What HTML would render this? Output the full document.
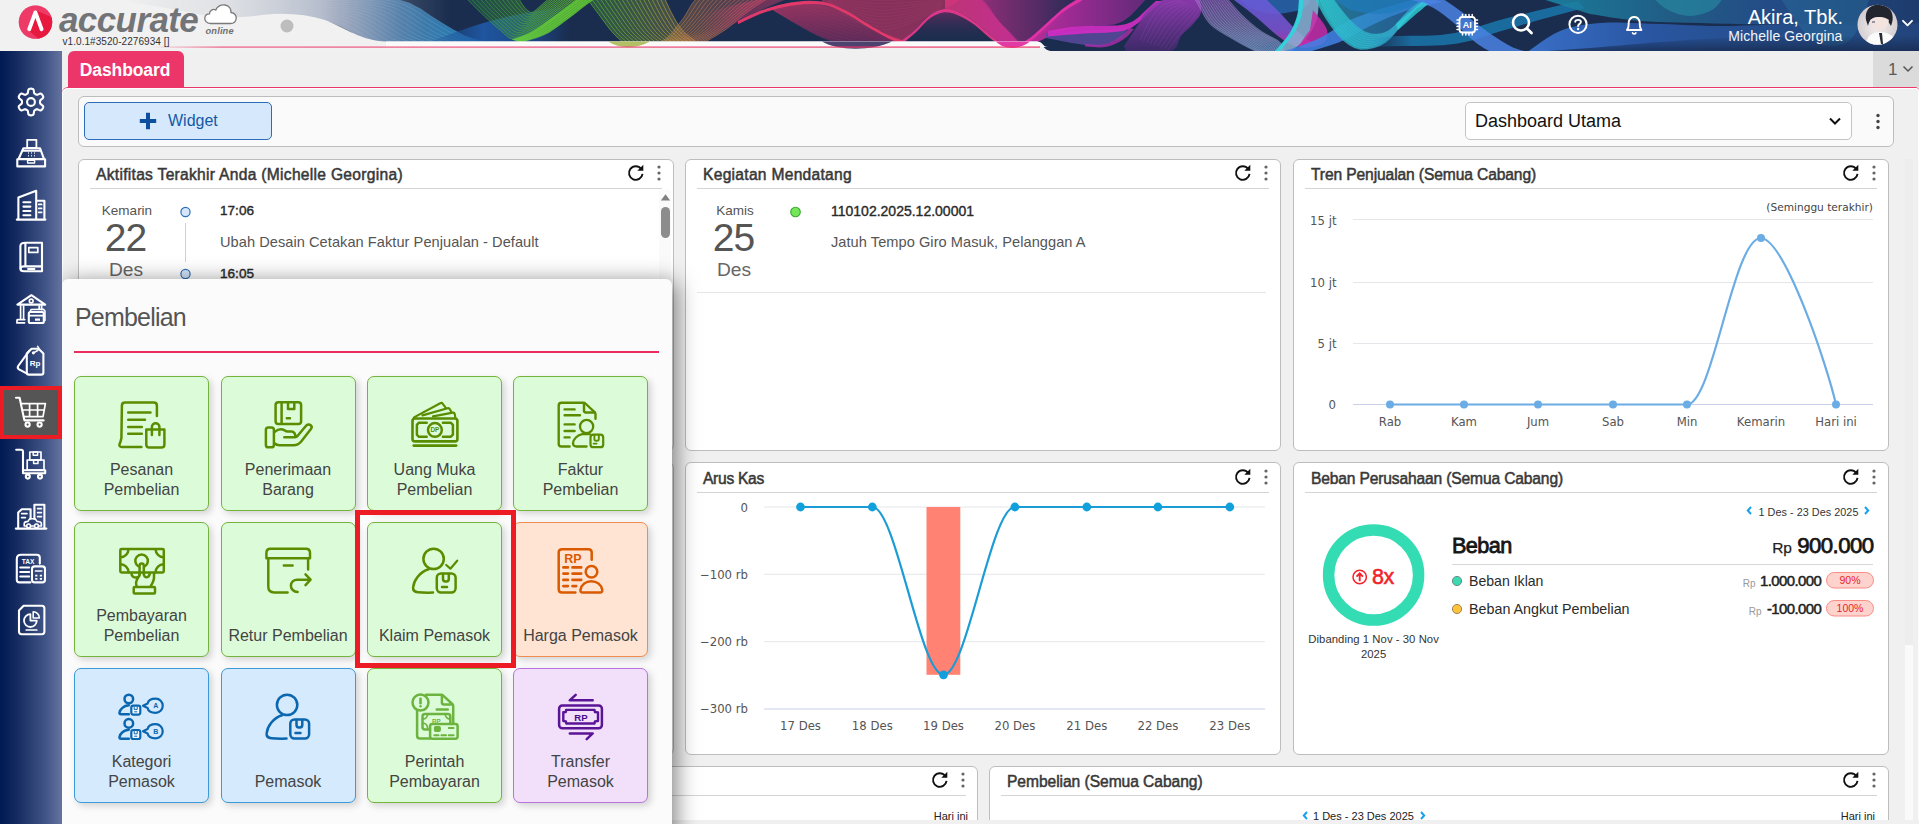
<!DOCTYPE html>
<html lang="id">
<head>
<meta charset="utf-8">
<title>Accurate Online - Dashboard</title>
<style>
*{box-sizing:border-box;margin:0;padding:0}
html,body{width:1919px;height:824px;overflow:hidden;background:#f0f0f0;font-family:"Liberation Sans","DejaVu Sans",sans-serif;color:#333}
.abs{position:absolute}
#app{position:absolute;left:0;top:0;width:1919px;height:824px;overflow:hidden;background:#f0f0f0}
/* header */
#hdr{position:absolute;left:0;top:0;width:1919px;height:51px;background:#f1f1f1;overflow:hidden}
#hdr svg.banner{position:absolute;left:0;top:0}
.logo-txt{position:absolute;left:59px;top:-2px;font:italic bold 35px "Liberation Sans",sans-serif;color:#737477;letter-spacing:-.6px;line-height:44px}
.logo-online{position:absolute;left:205.5px;top:24.5px;font:italic bold 9.3px "Liberation Sans",sans-serif;color:#707174;line-height:12px;letter-spacing:.15px}
.logo-ver{position:absolute;left:62.5px;top:36px;font:10px "Liberation Sans",sans-serif;color:#333;line-height:12px;white-space:nowrap;letter-spacing:.06px}
.usr1{position:absolute;right:76px;top:5px;font:20px "Liberation Sans",sans-serif;color:#fff;line-height:24px;white-space:nowrap}
.usr2{position:absolute;right:76.500px;top:27px;font:14px "Liberation Sans",sans-serif;color:#f4f6fa;line-height:18px;white-space:nowrap;letter-spacing:.08px}
/* sidebar */
#side{position:absolute;left:0;top:51px;width:62px;height:773px;background:linear-gradient(90deg,#001a54 0%,#13295f 25%,#2a3f72 50%,#43568a 75%,#65749d 100%);z-index:5}
#side .ic{position:absolute;left:13px;width:36px;height:36px}
#side svg{display:block;width:36px;height:36px;fill:none;stroke:#fff;stroke-width:1.6;stroke-linecap:round;stroke-linejoin:round}
#side .act{position:absolute;left:0;top:335px;width:62px;height:53px;background:#555;border:4px solid #ec1c24}
/* tab bar */
#tabs{position:absolute;left:62px;top:51px;width:1857px;height:38px}
#tabs .tab{position:absolute;left:6px;top:0;width:116px;height:36.5px;background:#ec3568;border-radius:6px 6px 0 0;color:#fff;font:bold 17.5px "Liberation Sans",sans-serif;line-height:38px;text-align:center;letter-spacing:-.1px;text-indent:-2px}
#tabs .line{display:none}
#tabs .cnt{position:absolute;right:0;top:0;width:46px;height:36px;background:#dbdbdb;color:#5a5a5a;font:17px "Liberation Sans",sans-serif;line-height:38px;padding-left:15px}
/* content */
#main{position:absolute;left:62px;top:89px;width:1857px;height:735px;background:#f0f0f0}
.box{position:absolute;background:#fff;border:1px solid #bdbdbd;border-radius:6px}
.r2 .wt,.r2 .wl,.r2 .wr,.r2 .wd{margin-top:1px}
.wt{position:absolute;left:17px;top:4.500px;font:15.600px "Liberation Sans",sans-serif;color:#383838;-webkit-text-stroke:.5px #383838;line-height:20px;white-space:nowrap}
.wl{position:absolute;left:11px;right:11px;top:28px;height:1px;background:#d4d4d4}
.wr{position:absolute;right:28.500px;top:4px;width:17.500px;height:17.500px}
.wd{position:absolute;right:12.300px;top:4.800px;width:4px;height:16px}
.t{position:absolute;white-space:nowrap}
svg text{font-family:"Liberation Sans","DejaVu Sans",sans-serif}
svg .dj,svg .dj text{font-family:"DejaVu Sans","Liberation Sans",sans-serif}
/* popup */
#pop{z-index:3;position:absolute;left:62px;top:279px;width:610px;height:560px;background:#fbfbfb;border-radius:6px 6px 0 0;box-shadow:4px 3px 22px rgba(0,0,0,.5)}
#pop h2{position:absolute;left:13px;top:22px;font:normal 25px "Liberation Sans",sans-serif;color:#555;letter-spacing:-.8px;line-height:32px}
#pop .pl{position:absolute;left:12px;top:72px;width:585px;height:2px;background:#ec2d5f}
.tile{position:absolute;width:135px;height:134.5px;border-radius:7px;border:1px solid;box-shadow:3px 3px 7px rgba(0,0,0,.16)}
.tile svg{position:absolute;left:41px;top:21px;width:52px;height:52px;fill:none;stroke-width:2.5;stroke-linecap:round;stroke-linejoin:round}
.tile .lb{position:absolute;left:0;right:0;bottom:10px;text-align:center;font:16px "Liberation Sans",sans-serif;line-height:20px;color:#444}
.g{background:#dcfcd9;border-color:#74b33c}.g svg{stroke:#5a8c00}
.o{background:#ffe4d4;border-color:#f08c50}.o svg{stroke:#d95a00}
.b{background:#d5eafd;border-color:#3b9ad8}.b svg{stroke:#0b66b0}
.p{background:#f2e0fb;border-color:#b873dc}.p svg{stroke:#5a1496}
#hl{position:absolute;left:293px;top:231px;width:161px;height:158px;border:5px solid #ed1c24}
.sb{-webkit-text-stroke:.38px currentColor}
</style>
</head>
<body>
<div id="app">
<div id="hdr">
<svg class="banner" width="1919" height="51" viewBox="0 0 1919 51">
<defs>
<linearGradient id="fadeL" x1="0" x2="1" y1="0" y2="0"><stop offset="0" stop-color="#fff" stop-opacity="0"/><stop offset=".3" stop-color="#fff" stop-opacity=".12"/><stop offset=".6" stop-color="#fff" stop-opacity=".4"/><stop offset=".85" stop-color="#fff" stop-opacity=".85"/><stop offset="1" stop-color="#fff" stop-opacity="1"/></linearGradient>
<mask id="mk"><rect x="0" y="0" width="1919" height="51" fill="#fff"/><rect x="0" y="0" width="120" height="51" fill="#000"/><rect x="120" y="0" width="330" height="51" fill="#000"/><rect x="120" y="0" width="330" height="51" fill="url(#fadeL)"/></mask>
</defs>
<g mask="url(#mk)">
<rect x="0" y="0" width="1919" height="51" fill="#1a2d4e"/>
<defs><linearGradient id="b1" gradientUnits="userSpaceOnUse" x1="120" y1="0" x2="480" y2="0"><stop offset="0" stop-color="#c9cfdd" stop-opacity="0"/><stop offset="0.25" stop-color="#aeb7cc" stop-opacity="0.55"/><stop offset="0.6" stop-color="#5f7199" stop-opacity="0.9"/><stop offset="0.85" stop-color="#2f6fa3"/><stop offset="1" stop-color="#2a86bd"/></linearGradient><linearGradient id="b2" gradientUnits="userSpaceOnUse" x1="120" y1="0" x2="480" y2="0"><stop offset="0" stop-color="#9aa6c6" stop-opacity="0.5"/><stop offset="0.6" stop-color="#6f86b0" stop-opacity="0.8"/><stop offset="1" stop-color="#49b0d8"/></linearGradient><linearGradient id="b3" gradientUnits="userSpaceOnUse" x1="425" y1="0" x2="570" y2="0"><stop offset="0" stop-color="#1d4a90" stop-opacity="0.2"/><stop offset="0.4" stop-color="#1f5aa8"/><stop offset="0.75" stop-color="#1d4e96" stop-opacity="0.8"/><stop offset="1" stop-color="#1d4e96" stop-opacity="0"/></linearGradient><linearGradient id="b4" gradientUnits="userSpaceOnUse" x1="465" y1="0" x2="585" y2="0"><stop offset="0" stop-color="#2f8f44"/><stop offset="0.5" stop-color="#4fb030"/><stop offset="1" stop-color="#6cd038"/></linearGradient><linearGradient id="b5" gradientUnits="userSpaceOnUse" x1="590" y1="0" x2="695" y2="0"><stop offset="0" stop-color="#52b432"/><stop offset="0.5" stop-color="#8aaa38"/><stop offset="1" stop-color="#c89044"/></linearGradient><linearGradient id="b6" gradientUnits="userSpaceOnUse" x1="640" y1="0" x2="770" y2="0"><stop offset="0" stop-color="#b8a040"/><stop offset="0.4" stop-color="#cf8048"/><stop offset="1" stop-color="#d05868"/></linearGradient><linearGradient id="b7" gradientUnits="userSpaceOnUse" x1="700" y1="0" x2="745" y2="0"><stop offset="0" stop-color="#d9406a" stop-opacity="0"/><stop offset="1" stop-color="#e0406c"/></linearGradient><linearGradient id="b8" gradientUnits="userSpaceOnUse" x1="0" y1="5" x2="0" y2="45"><stop offset="0" stop-color="#a03462"/><stop offset="1" stop-color="#5e2a5a"/></linearGradient><linearGradient id="b9" gradientUnits="userSpaceOnUse" x1="0" y1="8" x2="0" y2="42"><stop offset="0" stop-color="#6a2c62" stop-opacity="0.95"/><stop offset="1" stop-color="#1a2d4e" stop-opacity="0.2"/></linearGradient><linearGradient id="b10" gradientUnits="userSpaceOnUse" x1="945" y1="0" x2="1020" y2="0"><stop offset="0" stop-color="#d9367c"/><stop offset="1" stop-color="#e02f9e"/></linearGradient><linearGradient id="b11" gradientUnits="userSpaceOnUse" x1="980" y1="0" x2="1080" y2="0"><stop offset="0" stop-color="#b82f86" stop-opacity="0.75"/><stop offset="0.6" stop-color="#7a2a74" stop-opacity="0.6"/><stop offset="1" stop-color="#3a2a5c" stop-opacity="0.4"/></linearGradient><linearGradient id="b12" gradientUnits="userSpaceOnUse" x1="1012" y1="0" x2="1150" y2="0"><stop offset="0" stop-color="#e030a2"/><stop offset="0.4" stop-color="#b52aa0"/><stop offset="1" stop-color="#6a2a7e"/></linearGradient><linearGradient id="b13" gradientUnits="userSpaceOnUse" x1="0" y1="0" x2="0" y2="50"><stop offset="0" stop-color="#9a3ab8"/><stop offset="1" stop-color="#452a6e"/></linearGradient><linearGradient id="b14" gradientUnits="userSpaceOnUse" x1="0" y1="0" x2="0" y2="50"><stop offset="0" stop-color="#a05ac8"/><stop offset="0.5" stop-color="#9a8ad0"/><stop offset="1" stop-color="#7ab0e8"/></linearGradient><linearGradient id="b15" gradientUnits="userSpaceOnUse" x1="0" y1="5" x2="0" y2="46"><stop offset="0" stop-color="#6a5ad8"/><stop offset="0.6" stop-color="#7a52d0"/><stop offset="1" stop-color="#c830b0"/></linearGradient><linearGradient id="b16" gradientUnits="userSpaceOnUse" x1="1320" y1="0" x2="1420" y2="0"><stop offset="0" stop-color="#2aa8c0"/><stop offset="1" stop-color="#2a78c0"/></linearGradient><linearGradient id="b17" gradientUnits="userSpaceOnUse" x1="1314" y1="0" x2="1425" y2="0"><stop offset="0" stop-color="#2ac8cc"/><stop offset="0.6" stop-color="#2aa8c8"/><stop offset="1" stop-color="#2a8cc8"/></linearGradient><linearGradient id="b18" gradientUnits="userSpaceOnUse" x1="1370" y1="0" x2="1580" y2="0"><stop offset="0" stop-color="#1a80b8" stop-opacity="0"/><stop offset="0.2" stop-color="#1a80b8"/><stop offset="1" stop-color="#1a80b8"/></linearGradient><linearGradient id="b19" gradientUnits="userSpaceOnUse" x1="1530" y1="0" x2="1919" y2="0"><stop offset="0" stop-color="#3a72cc"/><stop offset="0.3" stop-color="#2a58a6"/><stop offset="0.6" stop-color="#26508f"/><stop offset="1" stop-color="#23467f"/></linearGradient><linearGradient id="b20" gradientUnits="userSpaceOnUse" x1="1540" y1="0" x2="1919" y2="0"><stop offset="0" stop-color="#1a8aa8" stop-opacity="0.9"/><stop offset="0.35" stop-color="#22648e" stop-opacity="0.9"/><stop offset="0.6" stop-color="#244f8c" stop-opacity="0.95"/><stop offset="1" stop-color="#1e3c6e"/></linearGradient></defs>
<path d="M150.0,-4.0 163.0,-4.3 176.0,-4.6 189.0,-4.9 202.0,-5.2 215.0,-5.5 228.0,-5.7 241.0,-5.9 254.0,-6.0 267.0,-6.1 279.9,-6.0 292.9,-5.9 305.9,-5.7 318.9,-5.4 331.9,-4.9 344.9,-4.5 357.9,-4.2 370.9,-3.6 383.8,-2.6 396.7,-0.7 409.1,3.0 420.6,9.1 431.4,16.4 442.3,23.3 453.5,30.0 465.0,36.0 477.4,39.9 490.0,43.0 400.0,46.0 389.3,45.7 378.5,45.1 368.2,42.5 358.9,37.0 350.0,31.0 340.5,26.0 330.5,22.2 320.0,20.2 309.3,19.3 298.5,18.7 287.8,18.7 277.1,19.2 266.4,20.1 255.7,21.1 244.9,21.8 234.2,22.0 223.5,21.6 212.8,20.8 202.1,19.6 191.7,16.8 181.3,14.2 170.8,12.1 160.2,10.0 149.7,7.9 139.1,5.9 128.6,4.0 118.0,2.0Z" fill="url(#b1)" opacity="1"/>
<path d="M150.0,-4.0 163.0,-4.3 176.0,-4.6 189.0,-4.9 202.0,-5.2 215.0,-5.5 228.0,-5.7 241.0,-5.9 254.0,-6.0 267.0,-6.1 279.9,-6.0 292.9,-5.9 305.9,-5.7 318.9,-5.4 331.9,-4.9 344.9,-4.5 357.9,-4.2 370.9,-3.6 383.8,-2.6 396.7,-0.7 409.1,3.0 420.6,9.1 431.4,16.4 442.3,23.3 453.5,30.0 465.0,36.0 477.4,39.9 490.0,43.0 M147.7,-3.6 160.5,-3.7 173.4,-3.9 186.2,-4.0 199.0,-4.1 211.8,-4.2 224.6,-4.3 237.4,-4.3 250.3,-4.2 263.1,-4.1 275.9,-4.1 288.7,-3.9 301.6,-3.7 314.4,-3.5 327.2,-3.1 340.1,-2.8 352.9,-2.5 365.7,-2.0 378.5,-1.1 391.2,0.8 403.5,4.4 414.9,10.3 425.5,17.4 436.4,24.3 447.4,30.9 458.8,36.6 471.1,40.4 483.6,43.2 M145.4,-3.1 158.1,-3.1 170.7,-3.1 183.4,-3.1 196.0,-3.0 208.7,-3.0 221.3,-2.9 233.9,-2.7 246.5,-2.4 259.2,-2.2 271.9,-2.1 284.6,-1.9 297.2,-1.8 309.9,-1.6 322.6,-1.4 335.2,-1.1 347.9,-0.9 360.6,-0.4 373.2,0.5 385.7,2.3 397.9,5.8 409.2,11.5 419.7,18.5 430.4,25.3 441.3,31.8 452.6,37.3 464.8,40.8 477.1,43.4 M143.1,-2.7 155.6,-2.5 168.1,-2.4 180.6,-2.2 193.0,-2.0 205.5,-1.7 218.0,-1.5 230.4,-1.1 242.8,-0.5 255.3,-0.3 267.8,-0.1 280.4,0.1 292.9,0.2 305.4,0.3 317.9,0.4 330.4,0.5 342.9,0.7 355.4,1.2 367.9,2.1 380.3,3.8 392.3,7.1 403.5,12.7 413.9,19.5 424.5,26.3 435.2,32.6 446.5,37.9 458.5,41.2 470.7,43.6 M140.9,-2.3 153.2,-1.9 165.5,-1.6 177.8,-1.2 190.0,-0.9 202.3,-0.5 214.6,-0.0 226.9,0.6 239.1,1.3 251.5,1.6 263.8,1.9 276.2,2.1 288.5,2.2 300.9,2.2 313.2,2.2 325.5,2.2 337.9,2.4 350.2,2.8 362.5,3.6 374.8,5.3 386.7,8.5 397.7,13.9 408.1,20.6 418.5,27.2 429.1,33.5 440.3,38.6 452.2,41.6 464.3,43.9 M138.6,-1.9 150.7,-1.3 162.8,-0.8 174.9,-0.3 187.1,0.2 199.2,0.8 211.3,1.4 223.4,2.2 235.4,3.1 247.6,3.6 259.8,3.8 272.0,4.0 284.2,4.1 296.3,4.1 308.5,4.0 320.7,3.9 332.9,4.0 345.1,4.4 357.2,5.2 369.3,6.8 381.0,9.9 392.0,15.1 402.3,21.6 412.5,28.2 423.0,34.4 434.1,39.2 445.9,42.0 457.9,44.1 M136.3,-1.4 148.2,-0.8 160.2,-0.1 172.1,0.6 184.1,1.3 196.0,2.0 208.0,2.8 219.9,3.8 231.7,4.9 243.7,5.5 255.7,5.8 267.8,6.0 279.8,6.1 291.8,6.0 303.8,5.8 315.8,5.6 327.9,5.6 339.9,5.9 351.9,6.8 363.8,8.3 375.4,11.2 386.3,16.3 396.5,22.6 406.6,29.2 416.9,35.3 427.9,39.9 439.6,42.4 451.4,44.3 M134.0,-1.0 145.8,-0.2 157.6,0.7 169.3,1.5 181.1,2.4 192.9,3.3 204.6,4.2 216.3,5.4 228.0,6.8 239.9,7.4 251.7,7.8 263.6,8.0 275.4,8.1 287.3,7.8 299.1,7.6 311.0,7.3 322.9,7.3 334.7,7.5 346.6,8.3 358.3,9.7 369.8,12.6 380.6,17.5 390.7,23.7 400.6,30.2 410.8,36.2 421.8,40.5 433.3,42.8 445.0,44.5 M131.7,-0.6 143.3,0.4 154.9,1.4 166.5,2.4 178.1,3.5 189.7,4.5 201.3,5.7 212.8,7.0 224.3,8.6 236.0,9.3 247.7,9.8 259.4,10.0 271.1,10.0 282.8,9.7 294.5,9.4 306.1,9.0 317.8,8.9 329.5,9.1 341.2,9.9 352.9,11.2 364.2,14.0 374.9,18.7 384.9,24.7 394.7,31.2 404.7,37.1 415.6,41.2 427.0,43.2 438.6,44.7 M129.4,-0.1 140.9,1.0 152.3,2.2 163.7,3.3 175.1,4.6 186.6,5.8 198.0,7.1 209.3,8.7 220.6,10.4 232.1,11.2 243.6,11.7 255.2,12.0 266.7,12.0 278.3,11.6 289.8,11.1 301.3,10.7 312.8,10.5 324.4,10.7 335.9,11.4 347.4,12.7 358.6,15.3 369.1,20.0 379.1,25.8 388.7,32.1 398.6,38.0 409.4,41.8 420.7,43.7 432.1,44.9 M127.1,0.3 138.4,1.6 149.7,2.9 160.9,4.3 172.2,5.6 183.4,7.0 194.6,8.5 205.8,10.3 216.9,12.3 228.2,13.2 239.6,13.7 251.0,14.0 262.4,14.0 273.7,13.5 285.1,12.9 296.4,12.4 307.8,12.2 319.2,12.3 330.6,13.0 341.9,14.2 353.0,16.7 363.4,21.2 373.3,26.8 382.8,33.1 392.5,38.9 403.2,42.5 414.4,44.1 425.7,45.1 M124.9,0.7 135.9,2.2 147.0,3.7 158.1,5.2 169.2,6.7 180.2,8.3 191.3,9.9 202.3,11.9 213.2,14.1 224.4,15.1 235.6,15.7 246.8,16.0 258.0,15.9 269.2,15.4 280.4,14.7 291.6,14.1 302.8,13.8 314.0,13.9 325.2,14.6 336.4,15.7 347.4,18.1 357.7,22.4 367.5,27.9 376.8,34.1 386.4,39.8 397.1,43.1 408.1,44.5 419.3,45.4 M122.6,1.1 133.5,2.8 144.4,4.4 155.3,6.1 166.2,7.8 177.1,9.6 188.0,11.4 198.8,13.5 209.5,15.9 220.5,17.0 231.5,17.7 242.6,18.0 253.7,17.9 264.7,17.3 275.7,16.5 286.8,15.8 297.8,15.4 308.9,15.5 319.9,16.1 330.9,17.2 341.7,19.4 352.0,23.6 361.7,28.9 370.8,35.1 380.3,40.7 390.9,43.8 401.8,44.9 412.9,45.6 M120.3,1.6 131.0,3.4 141.8,5.2 152.5,7.0 163.2,8.9 173.9,10.8 184.6,12.8 195.2,15.2 205.8,17.7 216.6,18.9 227.5,19.6 238.4,20.0 249.3,19.9 260.2,19.2 271.0,18.3 281.9,17.5 292.8,17.1 303.7,17.1 314.6,17.7 325.4,18.7 336.1,20.8 346.2,24.8 355.8,30.0 364.9,36.1 374.2,41.6 384.7,44.4 395.6,45.3 406.4,45.8 M118.0,2.0 128.6,4.0 139.1,5.9 149.7,7.9 160.2,10.0 170.8,12.1 181.3,14.2 191.7,16.8 202.1,19.6 212.8,20.8 223.5,21.6 234.2,22.0 244.9,21.8 255.7,21.1 266.4,20.1 277.1,19.2 287.8,18.7 298.5,18.7 309.3,19.3 320.0,20.2 330.5,22.2 340.5,26.0 350.0,31.0 358.9,37.0 368.2,42.5 378.5,45.1 389.3,45.7 400.0,46.0" fill="none" stroke="url(#b2)" stroke-width="0.6" opacity="0.7"/>
<path d="M570.0,6.0 560.1,7.5 550.2,9.0 540.3,10.5 530.4,12.1 520.6,13.9 510.8,15.9 501.1,18.2 491.4,20.8 481.8,23.5 472.2,26.4 462.7,29.7 453.3,33.0 443.9,36.4 434.4,39.7 425.0,43.0 425.0,43.5 434.7,43.3 444.3,43.1 454.0,43.0 463.7,43.0 473.3,43.0 483.0,43.0 492.7,43.0 502.3,43.0 512.0,43.0 521.7,43.0 531.3,43.0 541.0,43.0 550.7,43.0 560.3,43.0 570.0,43.0Z" fill="url(#b3)" opacity="0.9"/>
<path d="M465.0,-3.0 468.8,0.9 472.6,4.7 476.4,8.6 480.3,12.3 484.3,16.0 488.3,19.7 492.3,23.4 496.3,27.0 500.5,30.4 504.5,34.1 508.6,37.7 513.6,39.5 519.0,38.7 524.0,36.8 528.9,34.4 533.6,31.8 538.3,29.0 542.9,26.2 547.4,23.2 551.8,20.0 556.1,16.7 560.4,13.4 564.8,10.2 569.1,6.9 573.4,3.6 577.7,0.3 582.0,-3.0 550.0,-3.0 548.8,-1.8 547.6,-0.6 546.5,0.6 545.2,1.8 544.0,2.9 542.7,4.0 541.4,5.1 540.2,6.2 538.9,7.3 537.6,8.4 536.3,9.5 535.1,10.6 533.7,11.7 532.2,12.4 530.6,12.4 529.1,11.7 527.7,10.6 526.5,9.5 525.3,8.3 524.2,7.0 523.2,5.7 522.2,4.3 521.3,2.9 520.4,1.4 519.6,-0.0 518.8,-1.5 518.0,-3.0Z" fill="url(#b4)" opacity="0.3"/>
<path d="M465.0,-3.0 468.8,0.9 472.6,4.7 476.4,8.6 480.3,12.3 484.3,16.0 488.3,19.7 492.3,23.4 496.3,27.0 500.5,30.4 504.5,34.1 508.6,37.7 513.6,39.5 519.0,38.7 524.0,36.8 528.9,34.4 533.6,31.8 538.3,29.0 542.9,26.2 547.4,23.2 551.8,20.0 556.1,16.7 560.4,13.4 564.8,10.2 569.1,6.9 573.4,3.6 577.7,0.3 582.0,-3.0 M469.4,-3.0 473.0,0.7 476.5,4.3 480.1,8.0 483.8,11.5 487.5,15.1 491.2,18.6 494.9,22.0 498.7,25.4 502.7,28.7 506.4,32.1 510.3,35.5 515.0,37.2 520.1,36.6 524.8,34.7 529.4,32.4 533.8,29.9 538.2,27.3 542.6,24.6 546.8,21.7 550.9,18.7 555.0,15.7 559.1,12.6 563.1,9.5 567.2,6.4 571.3,3.3 575.3,0.1 579.3,-3.0 M473.8,-3.0 477.1,0.5 480.4,3.9 483.8,7.4 487.2,10.8 490.6,14.1 494.1,17.4 497.6,20.7 501.2,23.9 504.8,26.9 508.4,30.2 512.0,33.3 516.4,34.9 521.2,34.4 525.6,32.6 529.9,30.4 534.1,28.1 538.2,25.6 542.2,23.0 546.2,20.3 550.1,17.5 553.9,14.6 557.7,11.7 561.5,8.8 565.3,5.9 569.1,2.9 572.9,-0.0 576.7,-3.0 M478.2,-3.0 481.3,0.3 484.3,3.5 487.4,6.8 490.6,10.0 493.8,13.1 497.0,16.2 500.3,19.3 503.6,22.3 507.0,25.2 510.3,28.2 513.7,31.2 517.9,32.7 522.3,32.2 526.5,30.5 530.4,28.5 534.3,26.2 538.1,23.9 541.9,21.5 545.6,18.9 549.2,16.3 552.8,13.6 556.3,10.8 559.9,8.1 563.4,5.3 567.0,2.6 570.5,-0.2 574.0,-3.0 M482.7,-3.0 485.5,0.1 488.3,3.1 491.1,6.2 494.0,9.2 496.9,12.1 499.9,15.0 502.9,17.9 506.0,20.8 509.2,23.5 512.3,26.3 515.4,29.0 519.3,30.4 523.4,30.0 527.3,28.4 530.9,26.5 534.5,24.3 538.0,22.1 541.6,19.9 545.0,17.5 548.3,15.0 551.7,12.5 555.0,9.9 558.3,7.4 561.6,4.8 564.8,2.2 568.1,-0.4 571.3,-3.0 M487.1,-3.0 489.6,-0.1 492.2,2.8 494.8,5.6 497.4,8.4 500.1,11.1 502.8,13.9 505.6,16.6 508.4,19.2 511.3,21.7 514.2,24.3 517.1,26.8 520.7,28.2 524.5,27.8 528.1,26.4 531.5,24.5 534.7,22.5 538.0,20.4 541.2,18.3 544.4,16.1 547.5,13.8 550.5,11.4 553.6,9.1 556.6,6.7 559.7,4.3 562.7,1.9 565.7,-0.6 568.7,-3.0 M491.5,-3.0 493.8,-0.3 496.1,2.4 498.4,5.0 500.8,7.6 503.3,10.2 505.7,12.7 508.2,15.2 510.8,17.6 513.5,20.0 516.1,22.4 518.8,24.7 522.1,25.9 525.6,25.6 528.9,24.3 532.0,22.5 535.0,20.6 537.9,18.7 540.9,16.7 543.8,14.7 546.6,12.6 549.4,10.4 552.2,8.2 555.0,6.0 557.8,3.8 560.5,1.5 563.3,-0.7 566.0,-3.0 M495.9,-3.0 498.0,-0.5 500.0,2.0 502.1,4.4 504.2,6.8 506.4,9.2 508.6,11.5 510.9,13.8 513.2,16.1 515.7,18.2 518.1,20.4 520.5,22.5 523.5,23.7 526.7,23.4 529.7,22.2 532.5,20.5 535.2,18.8 537.9,17.0 540.5,15.2 543.2,13.3 545.8,11.3 548.3,9.3 550.8,7.3 553.4,5.3 555.9,3.2 558.4,1.2 560.9,-0.9 563.3,-3.0 M500.3,-3.0 502.1,-0.7 503.9,1.6 505.8,3.8 507.6,6.0 509.6,8.2 511.5,10.4 513.6,12.5 515.6,14.5 517.8,16.5 520.0,18.5 522.2,20.3 524.9,21.4 527.8,21.2 530.5,20.1 533.0,18.6 535.4,16.9 537.8,15.3 540.2,13.6 542.6,11.9 544.9,10.1 547.2,8.3 549.5,6.4 551.7,4.6 554.0,2.7 556.2,0.8 558.5,-1.1 560.7,-3.0 M504.8,-3.0 506.3,-0.9 507.9,1.2 509.4,3.2 511.0,5.3 512.7,7.2 514.5,9.2 516.2,11.1 518.1,13.0 520.0,14.7 521.9,16.5 523.9,18.2 526.3,19.2 528.9,19.0 531.3,18.0 533.5,16.6 535.6,15.1 537.7,13.5 539.9,12.0 542.0,10.5 544.0,8.8 546.1,7.2 548.1,5.5 550.1,3.9 552.1,2.2 554.1,0.5 556.0,-1.3 558.0,-3.0 M509.2,-3.0 510.5,-1.1 511.8,0.8 513.1,2.6 514.5,4.5 515.9,6.3 517.4,8.0 518.9,9.7 520.5,11.4 522.1,13.0 523.9,14.5 525.7,16.0 527.7,16.9 530.0,16.8 532.1,15.9 534.0,14.6 535.9,13.2 537.7,11.8 539.5,10.4 541.4,9.0 543.2,7.6 545.0,6.1 546.7,4.7 548.5,3.2 550.2,1.7 551.9,0.1 553.6,-1.4 555.3,-3.0 M513.6,-3.0 514.6,-1.3 515.7,0.4 516.8,2.0 517.9,3.7 519.1,5.3 520.3,6.8 521.6,8.4 522.9,9.9 524.3,11.3 525.8,12.6 527.4,13.8 529.2,14.7 531.1,14.6 532.9,13.8 534.5,12.6 536.1,11.3 537.6,10.1 539.2,8.9 540.8,7.6 542.3,6.4 543.8,5.1 545.4,3.8 546.9,2.5 548.3,1.1 549.8,-0.2 551.2,-1.6 552.7,-3.0 M518.0,-3.0 518.8,-1.5 519.6,-0.0 520.4,1.4 521.3,2.9 522.2,4.3 523.2,5.7 524.2,7.0 525.3,8.3 526.5,9.5 527.7,10.6 529.1,11.7 530.6,12.4 532.2,12.4 533.7,11.7 535.1,10.6 536.3,9.5 537.6,8.4 538.9,7.3 540.2,6.2 541.4,5.1 542.7,4.0 544.0,2.9 545.2,1.8 546.5,0.6 547.6,-0.6 548.8,-1.8 550.0,-3.0" fill="none" stroke="url(#b4)" stroke-width="0.7" opacity="0.9"/>
<path d="M512.0,39.5 517.2,37.9 522.3,36.3 527.3,34.3 532.1,31.8 536.6,28.9 541.1,25.9 545.4,22.7 549.8,19.6 554.2,16.5 558.6,13.3 563.0,10.2 567.3,7.0 571.6,3.8 575.8,0.4 580.0,-3.0 597.0,-3.0 592.2,0.5 587.3,4.0 582.6,7.6 577.9,11.3 573.2,14.9 568.4,18.5 563.6,22.1 558.8,25.7 554.0,29.1 549.0,32.4 543.7,35.1 538.1,37.3 532.4,39.1 526.7,40.8 521.0,42.5Z" fill="#5fc830" opacity="0.85"/>
<path d="M512.0,39.5 517.2,37.9 522.3,36.3 527.3,34.3 532.1,31.8 536.6,28.9 541.1,25.9 545.4,22.7 549.8,19.6 554.2,16.5 558.6,13.3 563.0,10.2 567.3,7.0 571.6,3.8 575.8,0.4 580.0,-3.0 M513.8,40.1 519.1,38.5 524.3,36.9 529.5,34.9 534.4,32.5 539.1,29.6 543.6,26.5 548.1,23.3 552.6,20.1 557.0,16.9 561.5,13.7 565.9,10.4 570.4,7.1 574.8,3.8 579.1,0.4 583.4,-3.0 M515.6,40.7 521.0,39.1 526.4,37.4 531.6,35.5 536.7,33.1 541.6,30.3 546.2,27.2 550.8,23.9 555.3,20.6 559.9,17.3 564.4,14.0 568.9,10.6 573.4,7.2 577.9,3.9 582.4,0.4 586.8,-3.0 M517.4,41.3 522.9,39.7 528.4,38.0 533.8,36.1 539.0,33.8 544.0,31.0 548.8,27.8 553.5,24.5 558.1,21.1 562.7,17.7 567.3,14.3 571.9,10.8 576.5,7.4 581.0,3.9 585.6,0.5 590.2,-3.0 M519.2,41.9 524.8,40.2 530.4,38.6 536.0,36.7 541.4,34.4 546.5,31.7 551.4,28.5 556.2,25.1 560.8,21.6 565.5,18.1 570.2,14.6 574.9,11.1 579.5,7.5 584.2,4.0 588.9,0.5 593.6,-3.0 M521.0,42.5 526.7,40.8 532.4,39.1 538.1,37.3 543.7,35.1 549.0,32.4 554.0,29.1 558.8,25.7 563.6,22.1 568.4,18.5 573.2,14.9 577.9,11.3 582.6,7.6 587.3,4.0 592.2,0.5 597.0,-3.0" fill="none" stroke="#7be048" stroke-width="0.6" opacity="0.6"/>
<path d="M586.0,-3.0 588.1,-0.1 590.3,2.8 592.4,5.8 594.6,8.7 596.7,11.6 598.9,14.5 601.0,17.4 603.2,20.3 605.3,23.2 607.5,26.1 609.7,29.0 612.0,31.8 614.5,34.5 617.1,37.0 619.8,39.4 622.5,41.7 625.4,44.0 628.2,46.2 631.0,48.5 695.0,41.0 692.7,39.2 690.4,37.5 688.2,35.7 685.9,33.9 683.8,31.9 681.9,29.8 680.1,27.5 678.4,25.2 676.9,22.7 675.5,20.3 674.0,17.7 672.7,15.2 671.3,12.7 670.0,10.1 668.8,7.5 667.6,4.9 666.4,2.3 665.2,-0.4 664.0,-3.0Z" fill="url(#b5)" opacity="0.3"/>
<path d="M586.0,-3.0 588.1,-0.1 590.3,2.8 592.4,5.8 594.6,8.7 596.7,11.6 598.9,14.5 601.0,17.4 603.2,20.3 605.3,23.2 607.5,26.1 609.7,29.0 612.0,31.8 614.5,34.5 617.1,37.0 619.8,39.4 622.5,41.7 625.4,44.0 628.2,46.2 631.0,48.5 M590.3,-3.0 592.4,-0.1 594.5,2.8 596.6,5.7 598.7,8.6 600.8,11.5 602.9,14.4 605.0,17.3 607.1,20.2 609.2,23.1 611.3,26.0 613.5,28.8 615.8,31.6 618.2,34.2 620.8,36.7 623.4,39.1 626.2,41.4 629.0,43.6 631.8,45.8 634.6,48.1 M594.7,-3.0 596.7,-0.1 598.7,2.8 600.8,5.7 602.8,8.6 604.8,11.4 606.9,14.3 609.0,17.2 611.1,20.0 613.1,22.9 615.2,25.8 617.3,28.6 619.6,31.3 621.9,33.9 624.5,36.4 627.1,38.8 629.8,41.0 632.6,43.3 635.4,45.4 638.1,47.7 M599.0,-3.0 601.0,-0.1 603.0,2.7 604.9,5.6 606.9,8.5 608.9,11.3 610.9,14.2 613.0,17.0 615.0,19.9 617.0,22.7 619.0,25.6 621.1,28.4 623.3,31.1 625.7,33.7 628.2,36.1 630.8,38.4 633.5,40.7 636.2,42.9 638.9,45.1 641.7,47.2 M603.3,-3.0 605.3,-0.1 607.2,2.7 609.1,5.6 611.0,8.4 613.0,11.3 615.0,14.1 617.0,16.9 618.9,19.7 620.9,22.6 622.9,25.4 625.0,28.2 627.1,30.8 629.4,33.4 631.9,35.8 634.5,38.1 637.1,40.4 639.8,42.5 642.5,44.7 645.2,46.8 M607.7,-3.0 609.5,-0.2 611.4,2.7 613.3,5.5 615.2,8.4 617.1,11.2 619.0,14.0 620.9,16.8 622.9,19.6 624.8,22.4 626.8,25.2 628.8,27.9 630.9,30.6 633.2,33.2 635.6,35.6 638.1,37.8 640.8,40.0 643.4,42.2 646.1,44.3 648.8,46.4 M612.0,-3.0 613.8,-0.2 615.6,2.6 617.5,5.5 619.3,8.3 621.1,11.1 623.0,13.9 624.9,16.7 626.8,19.5 628.7,22.2 630.6,25.0 632.6,27.7 634.7,30.4 636.9,32.9 639.3,35.3 641.8,37.5 644.4,39.7 647.0,41.8 649.7,43.9 652.3,46.0 M616.3,-3.0 618.1,-0.2 619.9,2.6 621.6,5.4 623.4,8.2 625.2,11.0 627.0,13.8 628.9,16.5 630.7,19.3 632.6,22.1 634.5,24.8 636.4,27.5 638.5,30.1 640.7,32.7 643.0,35.0 645.5,37.2 648.1,39.4 650.7,41.5 653.3,43.5 655.9,45.6 M620.7,-3.0 622.4,-0.2 624.1,2.6 625.8,5.4 627.5,8.2 629.3,10.9 631.1,13.7 632.9,16.4 634.7,19.2 636.5,21.9 638.3,24.6 640.2,27.3 642.3,29.9 644.4,32.4 646.7,34.7 649.2,36.9 651.7,39.0 654.3,41.1 656.9,43.1 659.4,45.2 M625.0,-3.0 626.7,-0.2 628.3,2.6 630.0,5.3 631.7,8.1 633.4,10.8 635.1,13.6 636.9,16.3 638.6,19.0 640.4,21.7 642.2,24.4 644.1,27.1 646.0,29.7 648.2,32.1 650.4,34.4 652.9,36.6 655.3,38.7 657.9,40.7 660.5,42.7 663.0,44.8 M629.3,-3.0 630.9,-0.2 632.5,2.5 634.2,5.3 635.8,8.0 637.4,10.8 639.1,13.5 640.8,16.2 642.5,18.9 644.3,21.6 646.0,24.3 647.9,26.9 649.8,29.4 651.9,31.9 654.1,34.2 656.5,36.3 659.0,38.4 661.5,40.4 664.0,42.3 666.6,44.3 M633.7,-3.0 635.2,-0.3 636.8,2.5 638.3,5.2 639.9,8.0 641.5,10.7 643.1,13.4 644.8,16.1 646.5,18.7 648.2,21.4 649.9,24.1 651.7,26.7 653.6,29.2 655.6,31.6 657.9,33.9 660.2,36.0 662.6,38.0 665.1,40.0 667.6,42.0 670.1,43.9 M638.0,-3.0 639.5,-0.3 641.0,2.5 642.5,5.2 644.0,7.9 645.6,10.6 647.2,13.3 648.8,15.9 650.4,18.6 652.1,21.2 653.8,23.9 655.5,26.5 657.4,29.0 659.4,31.4 661.6,33.6 663.9,35.7 666.3,37.7 668.7,39.7 671.2,41.6 673.7,43.5 M642.3,-3.0 643.8,-0.3 645.2,2.4 646.7,5.1 648.1,7.8 649.6,10.5 651.2,13.2 652.8,15.8 654.4,18.5 656.0,21.1 657.6,23.7 659.3,26.2 661.2,28.7 663.1,31.1 665.3,33.3 667.6,35.4 669.9,37.4 672.3,39.3 674.8,41.2 677.2,43.1 M646.7,-3.0 648.1,-0.3 649.5,2.4 650.9,5.1 652.3,7.8 653.7,10.4 655.2,13.1 656.7,15.7 658.3,18.3 659.9,20.9 661.5,23.5 663.2,26.0 665.0,28.5 666.9,30.8 669.0,33.0 671.2,35.1 673.6,37.0 676.0,38.9 678.4,40.8 680.8,42.7 M651.0,-3.0 652.3,-0.3 653.7,2.4 655.0,5.0 656.4,7.7 657.8,10.3 659.2,13.0 660.7,15.6 662.2,18.2 663.8,20.8 665.3,23.3 667.0,25.8 668.7,28.3 670.6,30.6 672.7,32.8 674.9,34.8 677.2,36.7 679.6,38.6 682.0,40.4 684.3,42.2 M655.3,-3.0 656.6,-0.3 657.9,2.3 659.2,5.0 660.5,7.6 661.9,10.3 663.3,12.9 664.7,15.5 666.2,18.0 667.7,20.6 669.2,23.1 670.8,25.6 672.5,28.0 674.4,30.3 676.4,32.5 678.6,34.5 680.9,36.4 683.2,38.2 685.6,40.0 687.9,41.8 M659.7,-3.0 660.9,-0.4 662.1,2.3 663.4,4.9 664.6,7.6 665.9,10.2 667.3,12.8 668.7,15.3 670.1,17.9 671.6,20.4 673.1,22.9 674.6,25.4 676.3,27.8 678.1,30.1 680.1,32.2 682.3,34.2 684.5,36.1 686.8,37.9 689.1,39.6 691.4,41.4 M664.0,-3.0 665.2,-0.4 666.4,2.3 667.6,4.9 668.8,7.5 670.0,10.1 671.3,12.7 672.7,15.2 674.0,17.7 675.5,20.3 676.9,22.7 678.4,25.2 680.1,27.5 681.9,29.8 683.8,31.9 685.9,33.9 688.2,35.7 690.4,37.5 692.7,39.2 695.0,41.0" fill="none" stroke="url(#b5)" stroke-width="0.75" opacity="0.95"/>
<path d="M640.0,48.5 644.1,47.3 648.2,46.3 652.3,45.1 656.3,43.7 660.2,42.1 663.9,40.0 667.3,37.4 670.3,34.5 673.2,31.3 675.9,28.0 678.4,24.7 681.0,21.3 683.6,17.9 685.9,14.3 688.0,10.7 690.1,7.0 692.4,3.4 695.1,0.1 698.0,-3.0 772.0,-3.0 767.8,-1.1 763.8,0.9 759.9,3.4 756.1,5.9 752.4,8.6 748.7,11.2 745.0,14.0 741.4,16.8 737.9,19.7 734.4,22.7 730.9,25.6 727.3,28.4 723.5,31.0 719.7,33.4 715.8,35.8 711.9,38.1 707.9,40.4 704.0,42.7 700.0,45.0Z" fill="url(#b6)" opacity="0.3"/>
<path d="M640.0,48.5 644.1,47.3 648.2,46.3 652.3,45.1 656.3,43.7 660.2,42.1 663.9,40.0 667.3,37.4 670.3,34.5 673.2,31.3 675.9,28.0 678.4,24.7 681.0,21.3 683.6,17.9 685.9,14.3 688.0,10.7 690.1,7.0 692.4,3.4 695.1,0.1 698.0,-3.0 M643.8,48.3 647.8,47.0 651.9,45.9 656.0,44.6 660.0,43.2 663.9,41.5 667.7,39.5 671.0,36.8 674.1,33.9 677.0,30.8 679.7,27.5 682.4,24.2 685.0,20.8 687.6,17.5 690.0,14.0 692.3,10.4 694.5,6.8 696.9,3.2 699.6,0.0 702.6,-3.0 M647.5,48.1 651.6,46.8 655.7,45.5 659.7,44.2 663.7,42.7 667.6,41.0 671.4,38.9 674.8,36.3 677.9,33.4 680.8,30.2 683.6,27.0 686.3,23.7 689.0,20.4 691.7,17.1 694.2,13.6 696.6,10.1 698.9,6.5 701.3,3.1 704.2,-0.1 707.2,-3.0 M651.2,47.8 655.3,46.5 659.4,45.2 663.4,43.8 667.5,42.2 671.4,40.5 675.1,38.3 678.5,35.7 681.7,32.8 684.6,29.7 687.5,26.5 690.3,23.2 693.0,19.9 695.8,16.6 698.4,13.2 700.8,9.8 703.2,6.3 705.8,2.9 708.7,-0.1 711.9,-3.0 M655.0,47.6 659.1,46.2 663.1,44.8 667.2,43.3 671.2,41.7 675.1,39.9 678.8,37.8 682.3,35.2 685.5,32.2 688.5,29.2 691.4,26.0 694.2,22.7 697.0,19.5 699.8,16.2 702.5,12.9 705.1,9.5 707.6,6.1 710.3,2.8 713.3,-0.2 716.5,-3.0 M658.8,47.4 662.8,45.9 666.9,44.4 670.9,42.9 674.9,41.3 678.8,39.4 682.6,37.2 686.0,34.6 689.3,31.7 692.3,28.6 695.3,25.4 698.1,22.2 701.0,19.0 703.9,15.8 706.7,12.5 709.3,9.2 711.9,5.8 714.7,2.6 717.8,-0.3 721.1,-3.0 M662.5,47.2 666.5,45.6 670.6,44.1 674.6,42.5 678.6,40.8 682.5,38.8 686.3,36.6 689.8,34.0 693.0,31.1 696.1,28.1 699.1,24.9 702.1,21.7 705.0,18.5 708.0,15.4 710.8,12.2 713.6,8.9 716.3,5.6 719.2,2.5 722.4,-0.4 725.8,-3.0 M666.2,47.0 670.3,45.3 674.3,43.7 678.3,42.0 682.3,40.3 686.2,38.3 690.0,36.1 693.5,33.5 696.8,30.6 700.0,27.5 703.0,24.4 706.0,21.2 709.0,18.1 712.1,15.0 715.0,11.8 717.8,8.6 720.7,5.4 723.6,2.3 726.9,-0.4 730.4,-3.0 M670.0,46.8 674.0,45.0 678.1,43.3 682.1,41.6 686.0,39.8 690.0,37.8 693.7,35.5 697.3,32.9 700.6,30.0 703.8,27.0 706.9,23.9 709.9,20.7 713.0,17.6 716.1,14.6 719.1,11.4 722.1,8.3 725.0,5.2 728.1,2.2 731.5,-0.5 735.0,-3.0 M673.8,46.5 677.8,44.7 681.8,43.0 685.8,41.2 689.8,39.3 693.7,37.2 697.5,34.9 701.0,32.3 704.4,29.5 707.6,26.5 710.8,23.4 713.9,20.3 717.0,17.2 720.2,14.1 723.3,11.1 726.3,8.0 729.4,4.9 732.6,2.0 736.0,-0.6 739.6,-3.0 M677.5,46.3 681.5,44.4 685.5,42.6 689.5,40.7 693.5,38.8 697.4,36.7 701.2,34.4 704.8,31.8 708.2,28.9 711.5,25.9 714.7,22.9 717.8,19.8 721.0,16.7 724.3,13.7 727.4,10.7 730.6,7.7 733.7,4.7 737.0,1.9 740.6,-0.7 744.2,-3.0 M681.2,46.1 685.2,44.2 689.2,42.3 693.2,40.3 697.2,38.3 701.1,36.1 704.9,33.8 708.5,31.2 712.0,28.4 715.3,25.4 718.5,22.3 721.8,19.3 725.0,16.3 728.3,13.3 731.6,10.4 734.8,7.4 738.1,4.5 741.5,1.7 745.1,-0.8 748.9,-3.0 M685.0,45.9 689.0,43.9 693.0,41.9 697.0,39.9 700.9,37.8 704.8,35.6 708.6,33.2 712.3,30.6 715.8,27.8 719.1,24.8 722.4,21.8 725.7,18.8 729.0,15.8 732.4,12.9 735.8,10.0 739.1,7.1 742.5,4.3 745.9,1.6 749.6,-0.8 753.5,-3.0 M688.8,45.7 692.7,43.6 696.7,41.5 700.7,39.4 704.6,37.3 708.5,35.1 712.4,32.7 716.0,30.1 719.6,27.2 723.0,24.3 726.3,21.3 729.6,18.3 733.0,15.3 736.5,12.5 739.9,9.6 743.3,6.8 746.8,4.0 750.4,1.4 754.2,-0.9 758.1,-3.0 M692.5,45.4 696.5,43.3 700.4,41.2 704.4,39.0 708.4,36.8 712.3,34.5 716.1,32.1 719.8,29.5 723.3,26.7 726.8,23.8 730.2,20.8 733.6,17.8 737.0,14.9 740.5,12.1 744.1,9.3 747.6,6.5 751.2,3.8 754.8,1.3 758.7,-1.0 762.8,-3.0 M696.2,45.2 700.2,43.0 704.2,40.8 708.1,38.6 712.1,36.3 716.0,34.0 719.8,31.5 723.5,28.9 727.1,26.1 730.6,23.2 734.1,20.3 737.5,17.3 741.0,14.4 744.6,11.7 748.2,8.9 751.9,6.2 755.5,3.6 759.3,1.1 763.3,-1.1 767.4,-3.0 M700.0,45.0 704.0,42.7 707.9,40.4 711.9,38.1 715.8,35.8 719.7,33.4 723.5,31.0 727.3,28.4 730.9,25.6 734.4,22.7 737.9,19.7 741.4,16.8 745.0,14.0 748.7,11.2 752.4,8.6 756.1,5.9 759.9,3.4 763.8,0.9 767.8,-1.1 772.0,-3.0" fill="none" stroke="url(#b6)" stroke-width="0.65" opacity="0.8"/>
<path d="M700.0,40.0 705.7,37.3 711.5,34.5 717.2,31.8 722.9,29.0 728.6,26.2 734.3,23.4 740.0,20.5 745.7,17.7 751.3,14.8 757.0,11.9 762.7,9.1 768.5,6.4 774.3,3.9 780.1,1.5 786.0,-1.0 770.0,-3.0 765.3,-1.8 760.6,-0.6 755.9,0.5 751.2,1.5 746.4,2.5 741.7,3.6 737.0,4.8 732.4,6.0 727.7,7.3 723.1,8.7 718.4,10.1 713.8,11.6 709.2,13.0 704.6,14.5 700.0,16.0Z" fill="url(#b7)" opacity="0.3"/>
<path d="M700.0,40.0 705.7,37.3 711.5,34.5 717.2,31.8 722.9,29.0 728.6,26.2 734.3,23.4 740.0,20.5 745.7,17.7 751.3,14.8 757.0,11.9 762.7,9.1 768.5,6.4 774.3,3.9 780.1,1.5 786.0,-1.0 M700.0,37.0 705.6,34.4 711.2,31.8 716.8,29.2 722.4,26.6 727.9,24.0 733.5,21.4 739.0,18.7 744.6,16.1 750.1,13.4 755.7,10.7 761.2,8.1 766.9,5.7 772.6,3.4 778.3,1.0 784.0,-1.2 M700.0,34.0 705.5,31.6 710.9,29.1 716.4,26.7 721.8,24.3 727.2,21.8 732.7,19.4 738.1,16.9 743.5,14.4 748.9,12.0 754.3,9.6 759.8,7.2 765.3,5.0 770.9,2.8 776.4,0.6 782.0,-1.5 M700.0,31.0 705.3,28.7 710.6,26.5 715.9,24.2 721.2,21.9 726.5,19.6 731.8,17.4 737.1,15.1 742.4,12.8 747.7,10.6 753.0,8.4 758.4,6.2 763.7,4.2 769.2,2.2 774.6,0.2 780.0,-1.8 M700.0,28.0 705.2,25.9 710.3,23.8 715.5,21.7 720.7,19.6 725.8,17.5 731.0,15.3 736.2,13.3 741.3,11.2 746.5,9.2 751.7,7.2 756.9,5.3 762.2,3.5 767.5,1.6 772.7,-0.2 778.0,-2.0 M700.0,25.0 705.0,23.0 710.1,21.1 715.1,19.1 720.1,17.2 725.1,15.3 730.2,13.3 735.2,11.4 740.3,9.6 745.3,7.8 750.4,6.0 755.5,4.3 760.6,2.7 765.7,1.1 770.9,-0.6 776.0,-2.2 M700.0,22.0 704.9,20.2 709.8,18.4 714.7,16.6 719.6,14.8 724.5,13.1 729.4,11.3 734.3,9.6 739.2,8.0 744.1,6.4 749.1,4.9 754.1,3.4 759.0,2.0 764.0,0.5 769.0,-1.0 774.0,-2.5 M700.0,19.0 704.7,17.4 709.5,15.7 714.2,14.1 719.0,12.5 723.8,10.9 728.5,9.3 733.3,7.8 738.1,6.4 742.9,5.0 747.8,3.7 752.6,2.4 757.5,1.2 762.3,-0.1 767.2,-1.4 772.0,-2.8 M700.0,16.0 704.6,14.5 709.2,13.0 713.8,11.6 718.4,10.1 723.1,8.7 727.7,7.3 732.4,6.0 737.0,4.8 741.7,3.6 746.4,2.5 751.2,1.5 755.9,0.5 760.6,-0.6 765.3,-1.8 770.0,-3.0" fill="none" stroke="url(#b7)" stroke-width="0.5" opacity="0.45"/>
<path d="M770.0,8.0 779.5,5.3 789.2,3.0 799.1,2.0 808.9,2.7 818.8,4.2 828.4,6.4 837.9,9.3 847.1,13.0 855.9,17.6 864.5,22.6 873.1,27.5 882.0,31.9 891.2,35.6 900.6,38.9 910.0,42.0 906.0,44.0 896.8,44.6 887.7,45.3 878.5,45.8 869.3,46.1 860.1,45.9 851.0,45.1 841.9,43.6 833.0,41.5 824.2,38.6 815.9,34.8 807.8,30.4 799.8,25.9 791.8,21.4 783.9,16.7 776.0,12.0Z" fill="url(#b8)" opacity="0.88"/>
<path d="M770.0,8.0 779.5,5.3 789.2,3.0 799.1,2.0 808.9,2.7 818.8,4.2 828.4,6.4 837.9,9.3 847.1,13.0 855.9,17.6 864.5,22.6 873.1,27.5 882.0,31.9 891.2,35.6 900.6,38.9 910.0,42.0 M770.6,8.4 780.0,6.4 789.5,4.8 799.1,4.4 808.8,5.5 818.5,7.3 828.0,9.6 837.4,12.5 846.6,16.1 855.4,20.4 864.1,24.9 872.7,29.3 881.7,33.3 890.9,36.5 900.2,39.4 909.6,42.2 M771.2,8.8 780.4,7.6 789.7,6.7 799.2,6.8 808.7,8.2 818.2,10.3 827.6,12.9 836.9,15.7 846.1,19.1 854.9,23.1 863.6,27.2 872.4,31.2 881.3,34.7 890.5,37.5 899.8,40.0 909.2,42.4 M771.8,9.2 780.9,8.7 790.0,8.5 799.3,9.2 808.6,11.0 817.9,13.4 827.2,16.1 836.4,18.9 845.5,22.2 854.4,25.9 863.2,29.6 872.0,33.1 881.0,36.1 890.2,38.5 899.5,40.6 908.8,42.6 M772.4,9.6 781.3,9.9 790.2,10.3 799.4,11.6 808.5,13.8 817.6,16.4 826.7,19.3 835.9,22.2 845.0,25.3 853.9,28.6 862.8,31.9 871.6,34.9 880.6,37.5 889.8,39.5 899.1,41.2 908.4,42.8 M773.0,10.0 781.7,11.0 790.5,12.2 799.4,14.0 808.4,16.5 817.3,19.5 826.3,22.5 835.4,25.4 844.5,28.3 853.4,31.3 862.3,34.2 871.2,36.8 880.3,38.8 889.4,40.4 898.7,41.7 908.0,43.0 M773.6,10.4 782.2,12.2 790.8,14.0 799.5,16.3 808.3,19.3 817.0,22.6 825.9,25.7 834.9,28.6 844.0,31.4 852.9,34.1 861.9,36.6 870.8,38.7 879.9,40.2 889.1,41.4 898.3,42.3 907.6,43.2 M774.2,10.8 782.6,13.3 791.0,15.9 799.6,18.7 808.2,22.1 816.7,25.6 825.5,29.0 834.5,31.8 843.5,34.4 852.5,36.8 861.4,38.9 870.5,40.5 879.5,41.6 888.7,42.4 898.0,42.9 907.2,43.4 M774.8,11.2 783.0,14.4 791.3,17.7 799.7,21.1 808.0,24.9 816.5,28.7 825.1,32.2 834.0,35.0 842.9,37.5 852.0,39.6 861.0,41.2 870.1,42.4 879.2,43.0 888.4,43.3 897.6,43.5 906.8,43.6 M775.4,11.6 783.5,15.6 791.5,19.5 799.7,23.5 807.9,27.6 816.2,31.8 824.6,35.4 833.5,38.3 842.4,40.5 851.5,42.3 860.6,43.6 869.7,44.2 878.8,44.4 888.0,44.3 897.2,44.0 906.4,43.8 M776.0,12.0 783.9,16.7 791.8,21.4 799.8,25.9 807.8,30.4 815.9,34.8 824.2,38.6 833.0,41.5 841.9,43.6 851.0,45.1 860.1,45.9 869.3,46.1 878.5,45.8 887.7,45.3 896.8,44.6 906.0,44.0" fill="none" stroke="#b83a6a" stroke-width="0.5" opacity="0.3"/>
<path d="M822.0,-3.0 837.5,-3.1 860.1,-3.4 886.3,-3.8 912.4,-3.9 934.9,-3.7 950.0,-3.0 957.0,-1.6 958.6,0.3 956.4,2.6 952.3,5.0 948.0,7.2 945.0,9.0 943.1,10.2 940.7,11.1 938.1,11.8 935.4,12.6 932.6,13.5 930.0,15.0 927.5,17.0 925.0,19.5 922.4,22.2 919.9,25.0 917.4,27.6 915.0,30.0 912.6,32.2 910.1,34.6 907.8,36.8 905.4,38.7 903.1,40.1 901.0,41.0 899.1,41.2 897.4,40.7 895.9,39.9 894.2,38.7 892.3,37.4 890.0,36.0 887.2,34.6 884.2,32.9 880.9,31.1 877.4,29.2 873.7,27.1 870.0,25.0 866.1,22.7 862.0,20.1 857.7,17.3 853.4,14.7 849.1,12.2 845.0,10.0 840.8,8.1 836.3,6.4 831.9,4.8 827.9,3.5 824.5,2.3 822.0,1.5Z" fill="#a4325f" opacity="0.78"/>
<path d="M826.0,-3.0 833.9,-3.0 841.7,-3.0 849.6,-3.0 857.5,-3.0 865.3,-3.0 873.2,-3.0 881.1,-3.0 888.9,-3.0 896.8,-3.0 904.7,-3.0 912.5,-3.0 920.4,-3.0 928.3,-3.0 936.1,-3.0 944.0,-3.0 M826.4,-2.3 834.2,-1.9 841.9,-1.4 849.6,-1.0 857.4,-0.5 865.2,-0.2 873.0,0.1 880.9,0.3 888.8,0.3 896.6,0.1 904.5,-0.2 912.3,-0.4 920.1,-0.7 928.0,-1.1 935.8,-1.4 943.6,-1.7 M826.8,-1.6 834.4,-0.7 842.1,0.2 849.7,1.1 857.3,1.9 865.1,2.7 872.9,3.2 880.7,3.6 888.6,3.5 896.5,3.2 904.3,2.7 912.1,2.1 919.9,1.5 927.7,0.9 935.4,0.2 943.2,-0.4 M827.2,-0.9 834.7,0.4 842.2,1.8 849.7,3.1 857.3,4.4 864.9,5.5 872.7,6.4 880.6,6.9 888.5,6.8 896.3,6.2 904.1,5.5 911.9,4.7 919.6,3.8 927.4,2.8 935.1,1.8 942.8,0.9 M827.6,-0.2 835.0,1.5 842.4,3.4 849.8,5.2 857.2,6.9 864.8,8.3 872.5,9.5 880.4,10.2 888.3,10.0 896.2,9.3 904.0,8.4 911.7,7.3 919.4,6.0 927.1,4.7 934.7,3.4 942.4,2.2 M828.0,0.5 835.3,2.7 842.5,5.0 849.8,7.2 857.2,9.3 864.7,11.2 872.4,12.6 880.2,13.5 888.1,13.3 896.0,12.4 903.8,11.2 911.5,9.8 919.1,8.3 926.7,6.7 934.4,5.0 942.0,3.5 M828.4,1.2 835.6,3.8 842.7,6.6 849.9,9.3 857.1,11.8 864.5,14.0 872.2,15.7 880.0,16.7 888.0,16.5 895.9,15.5 903.6,14.1 911.3,12.4 918.9,10.6 926.4,8.6 934.0,6.6 941.6,4.8 M828.8,1.9 835.9,4.9 842.9,8.2 849.9,11.3 857.1,14.3 864.4,16.8 872.0,18.9 879.9,20.0 887.8,19.8 895.7,18.6 903.4,16.9 911.1,15.0 918.6,12.8 926.1,10.6 933.6,8.2 941.2,6.1 M829.2,2.6 836.2,6.1 843.0,9.8 849.9,13.4 857.0,16.7 864.3,19.7 871.8,22.0 879.7,23.3 887.7,23.0 895.5,21.7 903.3,19.8 910.9,17.5 918.4,15.1 925.8,12.5 933.3,9.9 940.8,7.4 M829.6,3.3 836.5,7.2 843.2,11.4 850.0,15.4 856.9,19.2 864.2,22.5 871.7,25.1 879.5,26.6 887.5,26.3 895.4,24.7 903.1,22.6 910.6,20.1 918.1,17.3 925.5,14.4 932.9,11.5 940.4,8.7 M830.0,4.0 836.8,8.4 843.4,13.0 850.0,17.4 856.9,21.7 864.0,25.3 871.5,28.2 879.4,29.9 887.4,29.5 895.2,27.8 902.9,25.5 910.4,22.7 917.9,19.6 925.2,16.4 932.6,13.1 940.0,10.0" fill="none" stroke="#d04a78" stroke-width="0.5" opacity="0.3"/>
<path d="M903.0,43.0 904.3,41.6 906.0,39.7 908.1,37.4 910.3,35.0 912.7,32.4 915.0,30.0 917.3,27.5 919.8,24.8 922.3,22.1 924.9,19.4 927.5,17.0 930.0,15.0 932.5,13.4 935.0,12.0 937.5,10.8 940.0,9.9 942.5,9.3 945.0,9.0 947.5,9.0 950.0,9.4 952.5,10.1 955.0,10.9 957.5,11.9 960.0,13.0 962.5,14.2 965.0,15.5 967.5,16.9 970.0,18.5 972.5,20.2 975.0,22.0 977.5,24.0 980.1,26.2 982.6,28.5 985.1,30.8 987.6,33.0 990.0,35.0 992.4,36.8 995.0,38.6 997.4,40.3 999.7,41.8 1001.6,43.1 1003.0,44.0Z" fill="url(#b9)" opacity="1"/>
<path d="M945.0,-3.0 948.7,-3.3 954.0,-3.9 960.1,-4.6 966.6,-4.9 972.8,-4.4 978.0,-3.0 982.3,-0.3 986.2,3.6 989.8,8.1 993.1,12.9 996.5,17.7 1000.0,22.0 1003.9,26.2 1008.2,30.5 1012.4,34.8 1016.3,38.9 1019.2,42.3 1021.0,45.0 1021.2,46.8 1020.2,47.9 1018.4,48.5 1016.1,48.6 1013.8,48.6 1012.0,48.5 1010.5,48.3 1009.1,47.8 1007.8,47.0 1006.3,46.1 1004.7,45.1 1003.0,44.0 1001.1,42.8 999.0,41.5 996.9,40.0 994.6,38.5 992.3,36.8 990.0,35.0 987.6,33.0 985.1,30.8 982.6,28.5 980.1,26.2 977.5,24.0 975.0,22.0 972.5,20.2 970.0,18.5 967.5,16.9 965.0,15.5 962.5,14.2 960.0,13.0 957.3,12.0 954.4,11.1 951.6,10.4 948.9,9.9 946.6,9.4 945.0,9.0Z" fill="url(#b10)" opacity="0.85"/>
<path d="M978.0,-3.0 990.7,-3.2 1009.3,-3.5 1030.8,-3.8 1052.1,-4.0 1070.2,-3.8 1082.0,-3.0 1086.8,-1.7 1087.0,0.1 1083.9,2.2 1079.1,4.7 1074.0,7.3 1070.0,10.0 1066.8,13.0 1063.0,16.4 1059.0,19.9 1054.9,23.5 1050.8,26.9 1047.0,30.0 1043.3,32.8 1039.6,35.6 1035.9,38.2 1032.5,40.5 1029.5,42.5 1027.0,44.0 1025.4,45.2 1024.5,46.2 1024.1,46.8 1023.6,46.9 1022.7,46.4 1021.0,45.0 1018.1,42.3 1014.3,38.3 1010.1,33.6 1006.0,28.9 1002.5,24.8 1000.0,22.0Z" fill="url(#b11)" opacity="1"/>
<path d="M738.0,21.0 743.6,18.3 749.3,15.6 754.9,13.0 760.7,10.6 766.6,8.5 772.6,6.7 778.6,5.1 784.7,3.8 790.8,2.6 797.0,1.7 803.2,1.1 809.5,0.8 815.7,0.9 821.9,1.5 828.0,2.9 833.9,4.9 839.6,7.4 845.2,10.1 850.7,13.1 856.1,16.3 861.3,19.7 866.6,23.0 872.0,26.2 877.4,29.3 882.8,32.4 888.4,35.2 894.1,37.7 900.0,39.7 906.0,41.5 906.0,44.7 900.0,42.9 894.1,40.9 888.4,38.4 882.8,35.6 877.4,32.5 872.0,29.4 866.6,26.2 861.3,22.9 856.1,19.5 850.7,16.3 845.2,13.3 839.6,10.6 833.9,8.1 828.0,6.1 821.9,4.7 815.7,4.1 809.5,4.0 803.2,4.3 797.0,4.9 790.8,5.8 784.7,7.0 778.6,8.3 772.6,9.9 766.6,11.7 760.7,13.8 754.9,16.2 749.3,18.8 743.6,21.5 738.0,24.2Z" fill="#e83a6c" opacity="0.95"/>
<path d="M900.0,42.0 903.7,39.1 907.4,36.3 911.1,33.4 914.6,30.3 918.0,27.1 921.2,23.6 924.3,20.2 927.7,16.9 931.4,14.1 935.5,11.7 939.8,10.0 944.4,9.1 949.0,9.2 953.6,10.4 957.9,12.1 962.2,14.0 966.3,16.2 970.3,18.7 974.1,21.4 977.8,24.2 981.3,27.3 984.8,30.5 988.3,33.6 992.0,36.5 995.8,39.3 999.6,41.9 1003.6,44.4 1007.7,46.5 1012.0,48.5 1012.0,51.7 1007.7,49.7 1003.6,47.6 999.6,45.1 995.8,42.5 992.0,39.7 988.3,36.8 984.8,33.7 981.3,30.5 977.8,27.4 974.1,24.6 970.3,21.9 966.3,19.4 962.2,17.2 957.9,15.3 953.6,13.6 949.0,12.4 944.4,12.3 939.8,13.2 935.5,14.9 931.4,17.3 927.7,20.1 924.3,23.4 921.2,26.8 918.0,30.3 914.6,33.5 911.1,36.6 907.4,39.5 903.7,42.3 900.0,45.2Z" fill="#e4388a" opacity="0.95"/>
<path d="M800.0,41.0 801.5,41.8 803.5,43.0 805.9,44.3 808.7,45.7 811.7,47.0 815.0,48.0 818.6,48.7 822.6,49.4 826.9,49.8 831.3,50.2 835.7,50.4 840.0,50.5 844.2,50.4 848.6,50.2 852.9,49.8 857.1,49.4 861.2,48.7 865.0,48.0 868.7,47.0 872.5,45.7 876.1,44.3 879.3,43.0 882.0,41.8 884.0,41.0Z" fill="#54305f" opacity="0.55"/>
<path d="M1012.0,48.5 1017.0,45.8 1022.0,43.0 1026.9,40.1 1031.6,36.8 1035.9,33.1 1040.1,29.3 1044.3,25.4 1048.5,21.5 1052.8,17.7 1057.0,13.9 1061.3,10.1 1065.8,6.6 1070.5,3.3 1075.2,0.1 1080.0,-3.0 1148.0,-3.0 1142.1,3.5 1136.1,10.1 1129.8,16.2 1122.7,21.5 1114.5,24.5 1105.7,25.3 1096.8,25.5 1088.1,26.5 1079.3,27.5 1070.5,28.9 1062.0,31.0 1053.8,34.2 1045.8,38.0 1037.9,42.0 1030.0,46.0Z" fill="url(#b12)" opacity="0.85"/>
<path d="M1012.0,48.5 1014.6,47.1 1017.3,45.6 1019.9,44.2 1022.6,42.7 1025.2,41.2 1027.7,39.6 1030.2,37.9 1032.5,36.0 1034.9,34.1 1037.1,32.1 1039.3,30.0 1041.5,28.0 1043.7,25.9 1045.9,23.9 1048.2,21.9 1050.4,19.8 1052.6,17.8 1054.8,15.8 1057.1,13.7 1059.3,11.7 1061.6,9.8 1064.0,8.0 1066.5,6.3 1069.0,4.6 1071.6,3.1 1074.2,1.5 1076.8,0.0 1079.4,-1.5 1082.0,-3.0 1082.0,0.4 1079.4,1.9 1076.8,3.4 1074.2,4.9 1071.6,6.5 1069.0,8.0 1066.5,9.7 1064.0,11.4 1061.6,13.2 1059.3,15.1 1057.1,17.1 1054.8,19.2 1052.6,21.2 1050.4,23.2 1048.2,25.3 1045.9,27.3 1043.7,29.3 1041.5,31.4 1039.3,33.4 1037.1,35.5 1034.9,37.5 1032.5,39.4 1030.2,41.3 1027.7,43.0 1025.2,44.6 1022.6,46.1 1019.9,47.6 1017.3,49.0 1014.6,50.5 1012.0,51.9Z" fill="#e431a6" opacity="0.95"/>
<path d="M1046.0,33.0 1051.5,32.5 1056.9,32.1 1062.4,31.6 1067.9,31.2 1073.3,30.8 1078.8,30.4 1084.3,30.0 1089.7,29.9 1095.2,29.9 1100.7,30.0 1106.2,30.1 1111.7,29.9 1117.1,29.4 1122.6,28.7 1128.0,28.0 1122.0,37.0 1117.3,39.4 1112.7,41.7 1107.9,43.8 1102.8,45.2 1097.7,45.9 1092.4,45.8 1087.2,45.3 1082.0,44.6 1076.9,43.8 1071.7,42.9 1066.6,41.9 1061.4,40.9 1056.3,40.0 1051.1,39.0 1046.0,38.0Z" fill="#5a4a9e" opacity="0.85"/>
<path d="M1048.0,31.0 1055.7,29.6 1063.3,28.2 1071.0,27.1 1078.8,26.4 1086.6,26.0 1094.3,25.7 1102.1,25.5 1109.9,25.5 1117.7,25.4 1125.4,24.3 1132.6,21.4 1138.9,16.9 1144.5,11.5 1150.2,6.2 1156.0,1.0 1162.0,1.0 1155.9,6.7 1149.8,12.3 1143.7,18.0 1137.5,23.6 1130.6,28.2 1122.7,30.9 1114.5,32.1 1106.2,32.7 1097.8,33.0 1089.5,33.3 1081.2,33.8 1072.9,34.4 1064.6,35.1 1056.3,35.8 1048.0,36.5Z" fill="#cf2cc2" opacity="0.92"/>
<path d="M1085.0,44.0 1088.3,44.3 1091.6,44.6 1094.9,44.8 1098.2,44.9 1101.5,44.8 1104.8,44.3 1107.9,43.4 1111.0,42.1 1113.9,40.7 1116.8,39.0 1119.6,37.2 1122.3,35.3 1124.6,33.0 1126.8,30.5 1129.0,28.0 1134.0,29.0 1131.6,31.8 1129.2,34.5 1126.5,37.1 1123.6,39.3 1120.4,41.2 1117.2,42.9 1113.9,44.5 1110.5,45.8 1106.9,46.8 1103.3,47.3 1099.6,47.5 1096.0,47.3 1092.3,47.1 1088.7,46.8 1085.0,46.5Z" fill="#c02cb8" opacity="0.7"/>
<path d="M1124.0,46.0 1125.3,44.0 1127.2,41.3 1129.4,38.0 1131.7,34.5 1134.0,31.1 1136.0,28.0 1137.8,25.1 1139.4,22.3 1141.0,19.5 1142.6,16.8 1144.2,14.3 1146.0,12.0 1147.8,9.9 1149.6,8.0 1151.4,6.3 1153.3,4.7 1155.5,3.3 1158.0,2.0 1160.9,0.8 1164.1,-0.2 1167.6,-1.1 1171.1,-1.9 1174.6,-2.5 1178.0,-3.0 1181.4,-3.5 1185.0,-3.9 1188.5,-4.2 1191.8,-4.3 1194.7,-3.9 1197.0,-3.0 1198.7,-1.3 1199.9,1.0 1200.7,3.8 1201.1,6.7 1201.2,9.5 1201.0,12.0 1200.4,14.2 1199.4,16.2 1198.0,18.2 1196.4,20.1 1194.7,22.0 1193.0,24.0 1191.2,26.0 1189.3,27.9 1187.2,29.8 1185.1,31.7 1183.0,33.8 1181.0,36.0 1179.5,38.6 1178.5,41.5 1177.5,44.5 1176.1,47.4 1173.7,49.8 1170.0,51.5 1164.1,52.4 1156.1,52.6 1147.3,52.5 1138.6,52.1 1131.2,51.7 1126.0,51.5Z" fill="url(#b13)" opacity="0.85"/>
<path d="M1140.0,40.0 1141.7,36.4 1143.4,32.7 1145.1,29.1 1146.9,25.6 1148.8,22.0 1150.9,18.6 1153.1,15.3 1155.5,12.1 1158.2,9.1 1161.2,6.6 1164.7,4.6 1168.4,3.1 1172.3,2.0 1176.1,1.0 1180.0,0.0 M1143.5,41.2 1145.2,37.7 1147.0,34.2 1148.7,30.7 1150.6,27.2 1152.5,23.8 1154.6,20.4 1156.9,17.2 1159.2,14.1 1161.9,11.1 1164.8,8.5 1168.1,6.5 1171.6,4.8 1175.2,3.5 1178.9,2.3 1182.5,1.0 M1147.0,42.5 1148.8,39.1 1150.6,35.6 1152.4,32.2 1154.3,28.8 1156.2,25.5 1158.3,22.3 1160.6,19.1 1163.0,16.0 1165.6,13.1 1168.4,10.5 1171.6,8.4 1174.9,6.6 1178.2,5.0 1181.6,3.5 1185.0,2.0 M1150.5,43.8 1152.3,40.4 1154.2,37.1 1156.0,33.8 1157.9,30.5 1159.9,27.2 1162.1,24.1 1164.3,21.0 1166.7,18.0 1169.2,15.1 1172.0,12.5 1175.0,10.3 1178.1,8.3 1181.2,6.5 1184.4,4.7 1187.5,3.0 M1154.0,45.0 1155.9,41.8 1157.8,38.5 1159.7,35.3 1161.6,32.1 1163.7,29.0 1165.8,25.9 1168.1,22.9 1170.4,19.9 1172.9,17.1 1175.6,14.5 1178.4,12.2 1181.3,10.0 1184.2,8.0 1187.1,6.0 1190.0,4.0 M1157.5,46.2 1159.4,43.1 1161.4,40.0 1163.3,36.9 1165.3,33.8 1167.4,30.7 1169.5,27.7 1171.8,24.8 1174.1,21.9 1176.6,19.1 1179.2,16.5 1181.9,14.0 1184.6,11.7 1187.2,9.5 1189.9,7.2 1192.5,5.0 M1161.0,47.5 1163.0,44.5 1165.0,41.4 1167.0,38.4 1169.0,35.4 1171.1,32.4 1173.3,29.5 1175.5,26.6 1177.9,23.9 1180.3,21.1 1182.8,18.5 1185.3,15.9 1187.8,13.4 1190.2,11.0 1192.6,8.5 1195.0,6.0 M1164.5,48.8 1166.5,45.8 1168.6,42.9 1170.6,39.9 1172.7,37.0 1174.8,34.1 1177.0,31.3 1179.3,28.5 1181.6,25.8 1184.0,23.1 1186.4,20.5 1188.8,17.8 1191.0,15.2 1193.2,12.5 1195.4,9.7 1197.5,7.0 M1168.0,50.0 1170.1,47.2 1172.2,44.3 1174.3,41.5 1176.4,38.7 1178.5,35.9 1180.7,33.1 1183.0,30.4 1185.3,27.8 1187.7,25.1 1190.0,22.5 1192.2,19.7 1194.3,16.9 1196.2,13.9 1198.1,11.0 1200.0,8.0" fill="none" stroke="#c070d8" stroke-width="0.5" opacity="0.3"/>
<path d="M1194.0,-3.0 1196.1,1.0 1198.2,4.9 1200.5,8.8 1202.5,12.8 1204.6,16.7 1207.1,20.5 1209.9,23.9 1213.3,26.9 1216.9,29.6 1220.7,32.0 1224.5,34.3 1228.4,36.6 1232.3,38.8 1236.1,41.1 1240.0,43.3 1244.0,45.4 1248.0,47.5 1252.0,49.5 1256.0,51.5 1284.0,51.5 1283.1,47.3 1281.3,43.5 1278.1,40.6 1274.4,38.5 1270.6,36.5 1266.8,34.5 1263.1,32.4 1259.6,30.0 1256.1,27.4 1252.8,24.7 1249.5,21.9 1246.3,19.1 1243.2,16.1 1240.1,13.1 1237.2,10.0 1234.4,6.8 1231.6,3.5 1228.8,0.3 1226.0,-3.0Z" fill="url(#b14)" opacity="0.5"/>
<path d="M1194.0,-3.0 1196.1,1.0 1198.2,4.9 1200.5,8.8 1202.5,12.8 1204.6,16.7 1207.1,20.5 1209.9,23.9 1213.3,26.9 1216.9,29.6 1220.7,32.0 1224.5,34.3 1228.4,36.6 1232.3,38.8 1236.1,41.1 1240.0,43.3 1244.0,45.4 1248.0,47.5 1252.0,49.5 1256.0,51.5 M1196.3,-3.0 1198.4,0.9 1200.6,4.8 1202.9,8.7 1205.0,12.6 1207.2,16.5 1209.6,20.2 1212.5,23.6 1215.9,26.6 1219.5,29.2 1223.2,31.7 1227.0,34.0 1230.9,36.3 1234.7,38.5 1238.6,40.8 1242.5,42.9 1246.4,45.1 1250.4,47.2 1254.2,49.3 1258.0,51.5 M1198.6,-3.0 1200.7,0.9 1203.0,4.7 1205.3,8.5 1207.5,12.4 1209.7,16.2 1212.2,19.9 1215.1,23.2 1218.5,26.2 1222.0,28.9 1225.7,31.3 1229.5,33.7 1233.3,36.0 1237.2,38.2 1241.1,40.4 1245.0,42.6 1248.9,44.7 1252.7,46.9 1256.4,49.2 1260.0,51.5 M1200.9,-3.0 1203.1,0.8 1205.4,4.6 1207.7,8.4 1210.0,12.2 1212.2,16.0 1214.8,19.6 1217.7,22.9 1221.1,25.8 1224.6,28.5 1228.3,31.0 1232.0,33.4 1235.8,35.7 1239.7,37.9 1243.5,40.1 1247.4,42.3 1251.3,44.4 1255.1,46.6 1258.7,49.0 1262.0,51.5 M1203.1,-3.0 1205.4,0.8 1207.7,4.5 1210.1,8.2 1212.4,12.0 1214.8,15.7 1217.4,19.3 1220.3,22.5 1223.6,25.5 1227.2,28.2 1230.8,30.7 1234.5,33.1 1238.3,35.4 1242.1,37.6 1246.0,39.8 1249.9,41.9 1253.8,44.0 1257.5,46.3 1260.9,48.9 1264.0,51.5 M1205.4,-3.0 1207.8,0.7 1210.1,4.4 1212.6,8.1 1214.9,11.8 1217.3,15.4 1220.0,19.0 1222.9,22.2 1226.2,25.1 1229.7,27.8 1233.3,30.3 1237.0,32.8 1240.8,35.1 1244.6,37.3 1248.5,39.4 1252.3,41.6 1256.2,43.7 1259.9,46.0 1263.1,48.7 1266.0,51.5 M1207.7,-3.0 1210.1,0.7 1212.5,4.3 1215.0,7.9 1217.4,11.6 1219.8,15.2 1222.5,18.6 1225.5,21.8 1228.8,24.8 1232.3,27.5 1235.9,30.0 1239.5,32.5 1243.3,34.8 1247.1,37.0 1250.9,39.1 1254.8,41.2 1258.6,43.4 1262.3,45.7 1265.3,48.5 1268.0,51.5 M1210.0,-3.0 1212.4,0.6 1214.9,4.2 1217.4,7.8 1219.9,11.4 1222.4,14.9 1225.1,18.3 1228.1,21.5 1231.4,24.4 1234.9,27.1 1238.4,29.7 1242.0,32.1 1245.7,34.5 1249.5,36.7 1253.4,38.8 1257.2,40.9 1261.1,43.0 1264.7,45.5 1267.6,48.4 1270.0,51.5 M1212.3,-3.0 1214.8,0.6 1217.3,4.1 1219.8,7.6 1222.3,11.2 1224.9,14.7 1227.7,18.0 1230.7,21.2 1234.0,24.1 1237.4,26.8 1240.9,29.4 1244.5,31.8 1248.2,34.2 1252.0,36.4 1255.8,38.5 1259.7,40.5 1263.5,42.7 1267.0,45.2 1269.8,48.2 1272.0,51.5 M1214.6,-3.0 1217.1,0.5 1219.6,4.0 1222.3,7.5 1224.8,11.0 1227.5,14.4 1230.3,17.7 1233.3,20.8 1236.6,23.7 1240.0,26.4 1243.5,29.0 1247.0,31.5 1250.7,33.9 1254.5,36.1 1258.3,38.1 1262.2,40.2 1265.9,42.3 1269.4,44.9 1272.0,48.1 1274.0,51.5 M1216.9,-3.0 1219.4,0.5 1222.0,3.9 1224.7,7.4 1227.3,10.8 1230.0,14.2 1232.9,17.4 1235.9,20.5 1239.2,23.3 1242.5,26.1 1246.0,28.7 1249.5,31.2 1253.2,33.6 1256.9,35.8 1260.8,37.8 1264.6,39.8 1268.4,42.0 1271.8,44.6 1274.2,47.9 1276.0,51.5 M1219.1,-3.0 1221.8,0.4 1224.4,3.8 1227.1,7.2 1229.8,10.6 1232.5,13.9 1235.4,17.1 1238.5,20.1 1241.8,23.0 1245.1,25.7 1248.5,28.4 1252.0,30.9 1255.7,33.3 1259.4,35.4 1263.2,37.5 1267.1,39.5 1270.8,41.6 1274.2,44.3 1276.5,47.8 1278.0,51.5 M1221.4,-3.0 1224.1,0.4 1226.8,3.7 1229.5,7.1 1232.3,10.4 1235.1,13.6 1238.0,16.8 1241.1,19.8 1244.4,22.6 1247.7,25.4 1251.1,28.0 1254.6,30.6 1258.1,33.0 1261.9,35.1 1265.7,37.1 1269.5,39.1 1273.3,41.3 1276.6,44.0 1278.7,47.6 1280.0,51.5 M1223.7,-3.0 1226.4,0.3 1229.2,3.6 1231.9,6.9 1234.7,10.2 1237.6,13.4 1240.6,16.4 1243.7,19.4 1246.9,22.3 1250.2,25.0 1253.6,27.7 1257.1,30.3 1260.6,32.7 1264.3,34.8 1268.2,36.8 1272.0,38.8 1275.7,41.0 1278.9,43.7 1280.9,47.5 1282.0,51.5 M1226.0,-3.0 1228.8,0.3 1231.6,3.5 1234.4,6.8 1237.2,10.0 1240.1,13.1 1243.2,16.1 1246.3,19.1 1249.5,21.9 1252.8,24.7 1256.1,27.4 1259.6,30.0 1263.1,32.4 1266.8,34.5 1270.6,36.5 1274.4,38.5 1278.1,40.6 1281.3,43.5 1283.1,47.3 1284.0,51.5" fill="none" stroke="#cfc6ee" stroke-width="0.55" opacity="0.5"/>
<path d="M1236.0,-3.0 1244.2,-3.1 1256.2,-3.4 1270.1,-3.8 1284.0,-3.9 1295.9,-3.7 1304.0,-3.0 1308.0,-1.6 1309.6,0.4 1309.1,2.7 1307.3,5.1 1304.8,7.3 1302.0,9.0 1298.5,10.4 1293.8,11.6 1288.2,12.6 1282.4,13.4 1276.9,13.9 1272.0,14.0 1267.6,13.6 1263.3,12.6 1259.1,11.3 1255.4,10.0 1252.3,8.8 1250.0,8.0Z" fill="#2a6ab8" opacity="0.75"/>
<path d="M1230.0,-3.0 1235.4,1.0 1240.8,5.0 1246.2,9.1 1251.5,13.2 1256.7,17.4 1261.8,21.9 1266.8,26.4 1271.8,30.9 1277.0,35.2 1282.4,39.2 1288.0,42.9 1294.0,45.8 1300.6,47.2 1307.3,47.1 1314.0,46.5 1324.0,40.0 1319.0,41.6 1313.9,42.3 1308.9,40.7 1304.6,37.7 1300.6,34.3 1296.7,30.8 1293.1,27.1 1289.5,23.3 1286.0,19.4 1282.5,15.5 1278.8,11.8 1275.1,8.1 1271.4,4.4 1267.7,0.7 1264.0,-3.0Z" fill="url(#b15)" opacity="0.88"/>
<path d="M1300.0,-3.0 1299.8,1.1 1299.5,5.1 1299.2,9.2 1298.6,13.2 1297.7,17.1 1296.4,21.0 1294.9,24.8 1293.2,28.4 1291.2,32.0 1289.0,35.4 1286.6,38.7 1284.0,41.8 1281.4,44.9 1278.7,47.9 1276.0,51.0 1292.0,51.0 1295.2,48.2 1298.4,45.5 1301.6,42.7 1304.6,39.8 1307.5,36.7 1309.9,33.3 1312.2,29.7 1314.1,25.9 1315.7,22.0 1317.0,18.0 1317.8,13.8 1318.3,9.6 1318.6,5.4 1318.8,1.2 1319.0,-3.0Z" fill="#8ab2d2" opacity="0.85"/>
<path d="M1299.0,-3.0 1298.8,1.1 1298.5,5.1 1298.2,9.2 1297.6,13.2 1296.7,17.1 1295.4,21.0 1293.9,24.8 1292.2,28.4 1290.2,32.0 1288.0,35.4 1285.6,38.7 1283.0,41.8 1280.4,44.9 1277.7,47.9 1275.0,51.0 1280.0,51.0 1282.6,47.9 1285.2,44.8 1287.8,41.7 1290.3,38.6 1292.7,35.3 1294.8,31.8 1296.7,28.3 1298.4,24.6 1299.9,20.9 1301.2,17.0 1302.1,13.1 1302.7,9.1 1303.0,5.1 1303.3,1.0 1303.5,-3.0Z" fill="#30d4dc" opacity="0.95"/>
<path d="M1313.0,10.0 1314.7,12.2 1317.3,15.4 1320.3,19.1 1323.2,23.0 1325.6,26.8 1327.0,30.0 1327.5,32.8 1327.4,35.5 1326.8,38.1 1325.6,40.4 1324.0,42.4 1322.0,44.0 1318.9,45.4 1314.7,46.6 1310.1,47.4 1305.6,47.9 1302.0,47.8 1300.0,47.0 1299.9,45.1 1301.3,42.2 1303.6,38.7 1306.2,35.1 1308.5,32.1 1310.0,30.0Z" fill="#c82aa8" opacity="0.85"/>
<path d="M1285.0,51.0 1294.6,47.7 1304.1,44.4 1313.6,40.8 1322.8,36.6 1331.4,31.3 1339.9,25.6 1348.7,20.7 1358.0,16.7 1367.5,13.2 1377.1,10.0 1386.8,7.0 1396.5,4.2 1406.3,1.6 1416.1,-0.7 1426.0,-3.0 1442.0,2.0 1432.9,4.1 1423.9,6.2 1414.8,8.4 1405.9,11.0 1397.1,14.2 1388.5,17.6 1380.0,21.3 1371.5,25.2 1363.3,29.5 1355.2,34.1 1347.0,38.6 1338.6,42.4 1329.8,45.5 1320.9,48.3 1312.0,51.0Z" fill="#4080e2" opacity="0.88"/>
<path d="M1318.0,-3.0 1319.5,0.0 1321.6,4.3 1324.0,9.4 1326.7,14.7 1329.4,19.7 1332.0,24.0 1334.6,27.7 1337.3,31.1 1340.0,34.3 1342.7,37.2 1345.4,39.8 1348.0,42.0 1350.4,43.8 1352.5,45.3 1354.6,46.5 1356.8,47.3 1359.2,47.8 1362.0,48.0 1365.2,47.9 1368.8,47.4 1372.6,46.6 1376.5,45.5 1380.4,43.9 1384.0,42.0 1387.5,39.5 1391.0,36.3 1394.4,32.8 1397.7,29.0 1400.9,25.4 1404.0,22.0 1407.0,18.8 1410.1,15.4 1413.0,12.2 1415.7,9.1 1418.1,6.3 1420.0,4.0 1421.4,2.1 1422.4,0.6 1423.0,-0.6 1423.4,-1.6 1423.7,-2.4 1424.0,-3.0Z" fill="url(#b16)" opacity="0.6"/>
<path d="M1314.0,-3.0 1317.1,2.8 1320.1,8.6 1323.3,14.4 1326.7,20.0 1330.4,25.5 1334.4,30.7 1338.6,35.8 1343.2,40.5 1348.4,44.6 1354.1,47.8 1360.4,49.4 1367.0,49.3 1373.5,48.0 1379.7,45.9 1385.4,42.7 1390.4,38.4 1394.8,33.5 1398.9,28.4 1403.0,23.2 1407.5,18.4 1412.0,13.6 1416.5,8.8 1421.0,4.0 1428.0,-3.0 1424.3,-1.8 1419.8,1.5 1415.4,4.8 1411.1,8.3 1407.0,12.0 1403.2,15.9 1399.6,20.1 1395.9,24.2 1392.0,28.1 1387.5,31.3 1382.4,33.3 1376.9,34.1 1371.4,33.8 1366.1,32.3 1361.2,29.7 1356.8,26.4 1352.8,22.7 1348.9,18.8 1345.3,14.6 1341.8,10.3 1338.5,5.9 1335.3,1.4 1332.0,-3.0Z" fill="url(#b17)" opacity="0.8"/>
<path d="M1314.0,-3.0 1317.1,2.8 1320.1,8.6 1323.3,14.4 1326.7,20.0 1330.4,25.5 1334.4,30.7 1338.6,35.8 1343.2,40.5 1348.4,44.6 1354.1,47.8 1360.4,49.4 1367.0,49.3 1373.5,48.0 1379.7,45.9 1385.4,42.7 1390.4,38.4 1394.8,33.5 1398.9,28.4 1403.0,23.2 1407.5,18.4 1412.0,13.6 1416.5,8.8 1421.0,4.0 M1316.2,-3.0 1319.4,2.6 1322.4,8.3 1325.6,13.9 1329.0,19.4 1332.7,24.6 1336.7,29.7 1340.9,34.6 1345.5,39.1 1350.6,43.0 1356.2,46.1 1362.5,47.5 1368.9,47.3 1375.2,45.9 1381.2,43.6 1386.7,40.4 1391.5,36.1 1395.8,31.3 1399.9,26.3 1404.0,21.4 1408.4,16.7 1412.9,12.0 1417.4,7.5 1421.9,3.1 M1318.5,-3.0 1321.6,2.5 1324.7,8.0 1328.0,13.4 1331.4,18.7 1335.1,23.8 1339.0,28.7 1343.2,33.4 1347.7,37.8 1352.8,41.5 1358.4,44.3 1364.6,45.6 1370.8,45.3 1377.0,43.9 1382.7,41.4 1388.0,38.1 1392.7,33.8 1396.9,29.1 1400.9,24.3 1405.1,19.5 1409.4,15.0 1413.9,10.5 1418.4,6.1 1422.8,2.3 M1320.8,-3.0 1323.9,2.3 1327.0,7.6 1330.3,12.9 1333.7,18.0 1337.4,23.0 1341.3,27.7 1345.5,32.3 1350.0,36.4 1355.0,40.0 1360.6,42.5 1366.6,43.7 1372.8,43.3 1378.7,41.8 1384.3,39.2 1389.3,35.8 1393.8,31.5 1397.9,26.9 1401.9,22.2 1406.1,17.6 1410.4,13.3 1414.9,9.0 1419.4,4.8 1423.6,1.4 M1323.0,-3.0 1326.2,2.1 1329.3,7.3 1332.6,12.4 1336.0,17.3 1339.7,22.1 1343.6,26.7 1347.7,31.1 1352.2,35.1 1357.2,38.5 1362.7,40.8 1368.7,41.7 1374.7,41.3 1380.5,39.7 1385.8,37.0 1390.7,33.5 1395.0,29.2 1399.0,24.7 1402.9,20.2 1407.1,15.8 1411.4,11.6 1415.9,7.5 1420.4,3.5 1424.5,0.5 M1325.2,-3.0 1328.5,2.0 1331.6,6.9 1334.9,11.8 1338.3,16.7 1342.0,21.3 1345.9,25.7 1350.0,29.9 1354.5,33.8 1359.5,36.9 1364.9,39.0 1370.7,39.8 1376.6,39.3 1382.2,37.6 1387.4,34.8 1392.0,31.1 1396.1,26.9 1400.0,22.5 1404.0,18.1 1408.1,13.9 1412.4,9.9 1416.9,6.0 1421.3,2.2 1425.4,-0.4 M1327.5,-3.0 1330.7,1.8 1333.9,6.6 1337.2,11.3 1340.6,16.0 1344.3,20.5 1348.2,24.7 1352.3,28.8 1356.7,32.4 1361.7,35.4 1367.1,37.3 1372.8,37.9 1378.5,37.3 1384.0,35.5 1388.9,32.5 1393.3,28.8 1397.3,24.7 1401.1,20.3 1405.0,16.1 1409.1,12.0 1413.4,8.2 1417.8,4.5 1422.3,0.9 1426.2,-1.2 M1329.8,-3.0 1333.0,1.6 1336.2,6.2 1339.5,10.8 1342.9,15.3 1346.6,19.6 1350.5,23.7 1354.6,27.6 1359.0,31.1 1363.9,33.9 1369.3,35.5 1374.9,36.0 1380.4,35.3 1385.7,33.4 1390.4,30.3 1394.6,26.5 1398.4,22.4 1402.1,18.1 1406.0,14.0 1410.1,10.2 1414.4,6.5 1418.8,3.0 1423.3,-0.5 1427.1,-2.1 M1332.0,-3.0 1335.3,1.4 1338.5,5.9 1341.8,10.3 1345.3,14.6 1348.9,18.8 1352.8,22.7 1356.8,26.4 1361.2,29.7 1366.1,32.3 1371.4,33.8 1376.9,34.1 1382.4,33.3 1387.5,31.3 1392.0,28.1 1395.9,24.2 1399.6,20.1 1403.2,15.9 1407.0,12.0 1411.1,8.3 1415.4,4.8 1419.8,1.5 1424.3,-1.8 1428.0,-3.0" fill="none" stroke="#5ae0e0" stroke-width="0.5" opacity="0.4"/>
<path d="M1330.0,-3.0 1341.0,-3.1 1357.2,-3.4 1375.9,-3.7 1394.4,-3.8 1410.0,-3.6 1420.0,-3.0 1423.7,-1.7 1423.1,0.0 1419.7,2.1 1414.6,4.3 1409.3,6.3 1405.0,8.0 1401.5,9.4 1397.6,10.7 1393.4,11.9 1389.1,12.9 1384.6,13.6 1380.0,14.0 1374.9,13.9 1369.3,13.3 1363.4,12.4 1358.0,11.4 1353.3,10.6 1350.0,10.0Z" fill="#1f7cbc" opacity="0.7"/>
<path d="M1370.0,38.0 1384.1,36.9 1398.2,36.0 1412.4,35.8 1426.6,35.7 1440.7,35.0 1454.7,33.1 1468.5,29.7 1482.0,25.5 1495.5,21.3 1509.2,17.6 1522.9,14.2 1536.7,10.8 1550.4,7.5 1564.2,4.2 1578.0,1.0 1584.0,8.0 1569.9,11.7 1555.7,15.4 1541.6,19.2 1527.6,23.3 1513.6,27.5 1499.6,31.6 1485.7,36.1 1471.7,40.4 1457.5,43.6 1443.0,45.2 1428.4,45.8 1413.8,45.9 1399.2,46.0 1384.6,46.5 1370.0,47.0Z" fill="url(#b18)" opacity="0.75"/>
<path d="M1398.0,-3.0 1405.1,-1.3 1412.1,0.3 1419.2,2.1 1426.1,4.4 1432.7,7.4 1438.8,11.2 1444.6,15.5 1450.3,20.1 1455.9,24.7 1461.3,29.5 1466.6,34.5 1471.9,39.4 1477.6,43.9 1483.7,47.9 1490.0,51.5 1526.0,51.5 1519.4,49.7 1513.0,47.4 1506.9,44.3 1501.0,40.8 1495.3,37.1 1489.6,33.2 1484.1,29.3 1478.6,25.2 1473.3,20.9 1468.0,16.6 1462.6,12.4 1457.0,8.4 1451.4,4.6 1445.7,0.8 1440.0,-3.0Z" fill="#4a82e2" opacity="0.85"/>
<path d="M1396.0,24.0 1397.7,22.5 1399.4,21.0 1401.2,19.6 1402.9,18.1 1404.6,16.6 1406.3,15.1 1408.1,13.6 1409.8,12.2 1411.5,10.7 1413.3,9.3 1415.0,7.8 1416.8,6.3 1418.5,4.9 1420.3,3.5 1422.0,2.0 1428.0,4.0 1426.0,5.7 1424.0,7.4 1422.0,9.2 1420.0,10.9 1417.9,12.6 1415.9,14.3 1413.9,16.1 1411.9,17.8 1409.9,19.5 1407.9,21.3 1406.0,23.0 1404.0,24.8 1402.0,26.5 1400.0,28.3 1398.0,30.0Z" fill="#30d0d8" opacity="0.8"/>
<path d="M1528.0,51.5 1531.4,49.1 1536.0,45.7 1541.5,41.8 1547.6,37.7 1553.8,33.9 1560.0,31.0 1566.0,28.8 1572.0,27.1 1578.2,25.7 1584.9,24.5 1592.1,23.7 1600.0,23.0 1608.8,22.6 1618.5,22.6 1628.8,22.9 1639.3,23.3 1649.8,23.7 1660.0,24.0 1669.8,24.3 1679.3,24.7 1688.8,25.2 1698.5,25.6 1708.8,25.9 1720.0,26.0 1731.7,25.9 1743.7,25.6 1756.3,25.2 1769.7,24.8 1784.2,24.4 1800.0,24.0 1819.0,23.3 1841.2,22.2 1864.5,21.0 1886.7,20.3 1905.6,20.5 1919.0,22.0 1925.9,25.4 1927.8,30.6 1926.4,36.6 1923.4,42.7 1920.4,47.9 1919.0,51.5Z" fill="url(#b19)" opacity="0.95"/>
<path d="M1536.0,-3.0 1582.1,-3.3 1649.5,-4.0 1727.5,-4.6 1805.5,-4.9 1872.9,-4.5 1919.0,-3.0 1942.5,0.1 1951.8,4.6 1950.4,9.9 1942.0,15.1 1930.3,19.8 1919.0,23.0 1905.8,24.8 1887.4,25.6 1865.8,25.8 1842.7,25.5 1820.1,25.2 1800.0,25.0 1781.8,24.9 1763.8,24.6 1746.3,24.2 1729.7,23.8 1714.1,23.4 1700.0,23.0 1687.6,22.7 1676.7,22.5 1666.9,22.3 1657.8,22.0 1649.0,21.6 1640.0,21.0 1630.5,20.0 1620.7,18.8 1611.2,17.4 1602.6,16.0 1595.3,14.8 1590.0,14.0Z" fill="url(#b20)" opacity="0.95"/>
<path d="M1780.0,-3.0 1781.6,-0.5 1783.8,3.1 1786.4,7.2 1789.3,11.7 1792.2,16.1 1795.0,20.0 1797.7,23.7 1800.4,27.4 1803.2,31.1 1806.0,34.5 1809.0,37.5 1812.0,40.0 1815.2,41.9 1818.5,43.5 1821.9,44.6 1825.4,45.4 1828.7,45.9 1832.0,46.0 1835.2,45.9 1838.4,45.4 1841.5,44.6 1844.5,43.5 1847.4,41.9 1850.0,40.0 1852.4,37.5 1854.6,34.5 1856.6,31.1 1858.5,27.4 1860.3,23.7 1862.0,20.0 1863.7,16.1 1865.3,11.7 1866.8,7.2 1868.1,3.1 1869.2,-0.5 1870.0,-3.0Z" fill="#2a7ca6" opacity="0.35"/>
<path d="M1652.0,-3.0 1653.7,-1.5 1655.9,0.6 1658.6,3.1 1661.6,5.7 1664.8,8.1 1668.0,10.0 1671.3,11.5 1674.9,13.0 1678.6,14.2 1682.4,15.1 1686.3,15.8 1690.0,16.0 1693.8,15.8 1697.7,15.1 1701.6,14.2 1705.4,13.0 1708.9,11.5 1712.0,10.0 1714.7,8.1 1717.2,5.7 1719.4,3.1 1721.3,0.6 1722.8,-1.5 1724.0,-3.0Z" fill="#2aa0b0" opacity="0.45"/>
<defs><linearGradient id="dkb" x1="0" x2="0" y1="0" y2="1"><stop offset="0" stop-color="#16284a" stop-opacity="0"/><stop offset="1" stop-color="#16284a" stop-opacity=".75"/></linearGradient></defs><path d="M1540,51.500 C1600,48 1650,42 1720,38 L1919,35 L1919,51.500 Z" fill="url(#dkb)"/>
</g>
<!-- lower-left grey area over banner -->
<path d="M0,51 L0,0 L118,0 C150,5 185,11 205,15.5 C225,19 245,17 262,15 C285,12.5 305,14 325,20 C345,28 362,41 386,41.5 L820,41.5 C840,41.5 840,41.5 1036,41.5 C1044,41.5 1042,51 1052,51 Z" fill="#f1f1f1"/>
<path d="M386,41.5 L1036,41.5 C1044,41.5 1042,47 1048,47 L386,47 Z" fill="#fafafa"/>
<!-- dips below the strip -->
<path d="M822,41.5 C835,50 870,52 892,41.5 Z" fill="#3b2d5e" opacity=".9"/>
<path d="M996,41.5 C1004,50 1020,50 1030,41.5 Z" fill="#e230a0" opacity=".95"/>
<path d="M608,41.5 C620,49 636,49 650,41.5 Z" fill="#a0b040" opacity=".8"/>
<!-- pink line -->
<defs><linearGradient id="pk" x1="0" x2="1"><stop offset="0" stop-color="#ec3568" stop-opacity="0"/><stop offset=".08" stop-color="#ec3568" stop-opacity=".8"/><stop offset="1" stop-color="#ec3568"/></linearGradient></defs>
<rect x="150" y="46.4" width="890" height="1.400" fill="url(#pk)" opacity=".85"/>
<!-- logo circle -->
<defs><clipPath id="lc"><circle cx="35.500" cy="22.100" r="16.700"/></clipPath></defs>
<circle cx="35.500" cy="22.300" r="16.800" fill="#d92a55" opacity=".5"/>
<circle cx="35.500" cy="22.100" r="16.700" fill="#ee3a67"/>
<path d="M36,10.500 L53,17.800 L53,40 L39.800,40 L28.600,30.500 L35.400,14 Z" fill="#e8193f" clip-path="url(#lc)"/>
<path d="M29.200,29.200 L35.400,12.400 L41.600,29.200" fill="none" stroke="#fff" stroke-width="3.900" stroke-linejoin="round" stroke-linecap="round"/>
<!-- cloud -->
<path d="M210.5,23.5 C206.5,23.5 204.5,20.5 204.8,18 C205,15.5 207,13.8 209.5,13.8 C209.5,10.5 213,8.5 215.8,10 C217,6.5 221,4.3 225,5 C229,5.8 231.2,9 231,12.5 C234.5,12.8 236.6,15.5 236.2,18.5 C235.8,21.5 233.5,23.5 230.5,23.5 Z" fill="#fff" stroke="#7a7a7a" stroke-width="1.3"/>
<!-- small grey dot -->
<circle cx="287" cy="26" r="6.5" fill="#bdbdbd"/>
<!-- header icons -->
<g fill="none" stroke="#fff" stroke-linecap="round" stroke-linejoin="round">
 <!-- AI chip -->
 <rect x="1459.5" y="17" width="15.5" height="15.5" rx="3" stroke-width="1.8"/>
 <path d="M1462.5,14.5v2.5M1465.8,14.5v2.5M1469,14.5v2.5M1472.2,14.5v2.5M1462.5,32.5v2.5M1465.8,32.5v2.5M1469,32.5v2.5M1472.2,32.5v2.5M1457,20v0M1457,20h2.5M1457,23.2h2.5M1457,26.4h2.5M1457,29.6h2.5M1475,20h2.5M1475,23.2h2.5M1475,26.4h2.5M1475,29.6h2.5" stroke-width="1.5"/>
 <!-- search -->
 <circle cx="1521" cy="22.5" r="8" stroke-width="2.6"/>
 <path d="M1527,28.6 L1531.5,33" stroke-width="2.8"/>
 <!-- help -->
 <circle cx="1578" cy="24.3" r="8.6" stroke-width="2"/>
 <path d="M1575.2,21.8 C1575.2,19.2 1580.9,19.2 1580.9,22 C1580.9,23.8 1578.1,24 1578.1,26" stroke-width="1.9"/>
 <!-- bell -->
 <path d="M1627,30 C1629.5,27.5 1628.3,24 1628.8,21.5 C1629.6,18.6 1631.5,17 1634.2,17 C1636.9,17 1638.8,18.6 1639.6,21.5 C1640.1,24 1638.9,27.5 1641.4,30 Z" stroke-width="1.9"/>
 <path d="M1632.6,33 C1633.4,34.2 1635,34.2 1635.8,33" stroke-width="1.8"/>
 <!-- user chevron -->
 <path d="M1903,20.800 L1907.500,25.300 L1912,20.800" stroke-width="1.900"/>
</g>
<circle cx="1578.1" cy="29" r="1.2" fill="#fff"/>
<text x="1467.3" y="28.2" font-size="9" font-weight="bold" fill="#fff" text-anchor="middle" style="font-family:'Liberation Sans',sans-serif">AI</text>
<!-- avatar -->
<defs><clipPath id="av"><circle cx="1877.5" cy="24.700" r="20"/></clipPath>
<radialGradient id="avg" cx=".5" cy=".55" r=".6"><stop offset="0" stop-color="#f4eeee"/><stop offset="1" stop-color="#cfc8cc"/></radialGradient></defs>
<circle cx="1877.5" cy="24.700" r="20" fill="url(#avg)"/>
<g clip-path="url(#av)">
 <path d="M1866,20 C1864,8 1874,3 1882,5 C1892,7 1895,16 1891,26 C1888,20 1884,17 1878,17 C1873,17 1869,20 1868,26 Z" fill="#23252e"/>
 <path d="M1870,20 C1872,26 1874,30 1879,31 C1884,31 1888,26 1889,20 C1884,16 1876,16 1870,20 Z" fill="#f3e4e0"/>
 <path d="M1866,46 C1866,36 1872,32 1880,32 C1890,32 1897,38 1897,46 Z" fill="#fbfbfb"/>
 <path d="M1879,33 L1881,44 L1883,44 L1882,33 Z" fill="#2a2a33"/>
 <path d="M1872,22 l3,0" stroke="#3a4a6a" stroke-width="1.2"/>
</g>
</svg>
<div class="logo-txt">accurate</div>
<div class="logo-online">online</div>
<div class="logo-ver">v1.0.1#3520-2276934 []</div>
<div class="usr1">Akira, Tbk.</div>
<div class="usr2">Michelle Georgina</div>
</div>
<div id="side"><div class="act"></div></div>
<svg class="abs" style="left:0;top:0;z-index:6" width="62" height="824" viewBox="0 0 62 824" fill="none" stroke="#fff" stroke-width="2.1" stroke-linecap="round" stroke-linejoin="round">
<!-- 1 gear -->
<path d="M40.0,102.0 40.0,102.6 40.1,103.2 40.5,103.9 41.8,104.9 43.1,106.1 43.3,107.1 43.0,107.9 42.6,108.7 42.1,109.4 41.5,110.1 40.6,110.4 38.9,109.9 37.4,109.3 36.6,109.2 36.0,109.5 35.5,109.8 35.0,110.1 34.5,110.4 34.1,111.1 33.9,112.8 33.5,114.5 32.7,115.1 31.9,115.3 31.0,115.4 30.1,115.3 29.3,115.1 28.5,114.5 28.1,112.8 27.9,111.1 27.5,110.4 27.0,110.1 26.5,109.8 26.0,109.5 25.4,109.2 24.6,109.3 23.1,109.9 21.4,110.4 20.5,110.1 19.9,109.4 19.4,108.7 19.0,107.9 18.7,107.1 18.9,106.1 20.2,104.9 21.5,103.9 21.9,103.2 22.0,102.6 22.0,102.0 22.0,101.4 21.9,100.8 21.5,100.1 20.2,99.1 18.9,97.9 18.7,96.9 19.0,96.1 19.4,95.3 19.9,94.6 20.5,93.9 21.4,93.6 23.1,94.1 24.6,94.7 25.4,94.8 26.0,94.5 26.5,94.2 27.0,93.9 27.5,93.6 27.9,92.9 28.1,91.2 28.5,89.5 29.3,88.9 30.1,88.7 31.0,88.6 31.9,88.7 32.7,88.9 33.5,89.5 33.9,91.2 34.1,92.9 34.5,93.6 35.0,93.9 35.5,94.2 36.0,94.5 36.6,94.8 37.4,94.7 38.9,94.1 40.6,93.6 41.5,93.9 42.1,94.6 42.6,95.3 43.0,96.1 43.3,96.9 43.1,97.9 41.8,99.1 40.5,100.1 40.1,100.8 40.0,101.4Z"/>
<circle cx="31" cy="102" r="3.9"/>
<!-- 2 cash register -->
<rect x="27.2" y="139.8" width="9.2" height="8.2" stroke-width="1.8"/>
<path d="M23.4,148.2 H40 L44,159 H18.6 Z M22.8,150.8 H40.8"/>
<rect x="17.3" y="159.2" width="27.8" height="7.2"/>
<rect x="27.6" y="160.4" width="7" height="2.6" stroke-width="1.4"/>
<path d="M28,153 h.8 M31,153 h.8 M34,153 h.8 M28,155.8 h.8 M31,155.8 h.8 M34,155.8 h.8" stroke-width="1.6" stroke-linecap="butt"/>
<!-- 3 buildings -->
<path d="M18.4,219.4 V197.4 L36.2,190.8 V219.4 M36.2,200.8 H44.4 V219.4 M16.8,219.6 H45.4"/>
<path d="M23.4,202.2 H30.4 M23.4,206.6 H30.4 M23.4,211 H30.4 M23.4,215.2 H30.4" stroke-width="2.1"/>
<path d="M38.8,204.4 H41.6 M38.8,208.4 H41.6 M38.8,212.4 H41.6" stroke-width="1.7"/>
<!-- 4 book -->
<path d="M25.6,242.8 H42 V271.2 H23.8 C21.4,271.2 20.4,270 20.4,268.4 V246 C20.4,243.8 22,242.8 25.6,242.8 Z"/>
<path d="M25.4,243 V266.2 M42,266.4 H24 C21.6,266.4 20.6,267.4 20.6,268.6"/>
<rect x="28.8" y="247.6" width="9" height="4.8" stroke-width="1.7"/>
<path d="M28,269 H34.5" stroke-width="1.8"/>
<!-- 5 bank + card -->
<path d="M17.4,304.6 L31.4,295.2 L45.2,304.6 Z"/>
<circle cx="31.2" cy="301" r="1.9" stroke-width="1.6"/>
<path d="M20.6,306 V318.4 M23.6,306 V318.4 M39.2,306 V309 M41.6,306 V309.4 M17.6,319.6 H24.8 M16.8,322.8 H24.6 M17,319.8 V322.6" stroke-width="1.7"/>
<path d="M30.2,311.6 L31,309.6 L43.4,309.2 L45,311 V320.4" stroke-width="1.5"/>
<rect x="28.8" y="312" width="15" height="11" rx="1.6"/>
<path d="M29,315.6 H43.6" stroke-width="1.6"/>
<path d="M35,319.6 H40" stroke-width="2.2" stroke-linecap="butt"/>
<!-- 6 price tag -->
<path d="M26.8,372.4 V353.6 L31.6,348.8 H38.6 L43.4,353.6 V372.4 C43.4,373.8 42.4,374.6 41.2,374.6 H29 C27.6,374.6 26.8,373.8 26.8,372.4 Z"/>
<path d="M29.4,350.6 L18.2,366 C17.4,367.4 17.8,368.6 19,369.4 L26.6,373.4"/>
<path d="M33.4,353 C35,351.4 37.8,351.2 38.6,349.4 C39,348.2 38.4,347 37.6,346.4" stroke-width="1.5"/>
<circle cx="33.4" cy="352.8" r="1" stroke-width="1.2"/>
<!-- 7 cart -->
<path d="M16,397.8 H19.6 L24.4,420.4 H43.6"/>
<path d="M20.8,403.6 H45.4 L43,416.6 H23.6 M22.2,410 H44.2 M29.6,403.8 V416.4 M37.6,403.8 V416.4" stroke-width="1.7"/>
<circle cx="27.6" cy="424.6" r="2.1"/><circle cx="39.6" cy="424.6" r="2.1"/>
<!-- 8 trolley -->
<path d="M16.2,449.8 H21 C22.4,449.8 23,450.6 23,451.8 V473 M23,470.2 H45.2 V473.2 H23"/>
<rect x="27.2" y="460" width="16.8" height="10" stroke-width="1.7"/>
<rect x="29.8" y="452" width="11.2" height="8" stroke-width="1.7"/>
<rect x="33.2" y="452" width="4.4" height="3.2" stroke-width="1.5"/>
<rect x="33.6" y="460" width="4.4" height="3.6" stroke-width="1.5"/>
<circle cx="27.8" cy="476.6" r="2"/><circle cx="40" cy="476.6" r="2"/>
<!-- 9 buildings + car -->
<path d="M15.8,528.6 H46.4 M18.2,528.4 V512.6 L21.8,509.2 H30.6 V518.6 M34.4,519 V504.8 H44.4 V528.4"/>
<path d="M21.6,513.6 H27 M21.6,517.6 H25.4 M37.6,508.6 H41.4 M37.6,512.6 H41.4 M37.6,516.6 H41.4" stroke-width="1.7"/>
<path d="M24.2,526 V523.8 C24.2,522.4 25.2,521.8 26.6,521.6 L28,521.4 L29.6,518.8 H35.2 L37,521.4 L39.4,521.8 C40.8,522 41.4,522.8 41.4,524 V526 H38.6 M34.4,526 H30.6 M26.6,526 H24.2" stroke-width="1.6"/>
<circle cx="28.6" cy="526" r="1.9" stroke-width="1.5"/><circle cx="36.5" cy="526" r="1.9" stroke-width="1.5"/>
<!-- 10 tax + calculator -->
<path d="M30.4,582.4 H19.4 C17.6,582.4 16.8,581.4 16.8,579.8 V559 C16.8,556 18.4,554.8 21.2,554.8 H36.8 C39,554.8 39.8,556 39.8,557.8 V563.6"/>
<path d="M20.2,567.6 H29.2 M20.2,572 H29.2 M20.2,576.6 H29.2" stroke-width="2"/>
<rect x="32" y="566.4" width="13" height="16" rx="2.6"/>
<path d="M35.4,571 H41.8" stroke-width="1.6"/>
<path d="M35.2,575.6 H37.4 M39.8,575.6 H42 M35.2,578.8 H37.4 M39.8,578.8 H42" stroke-width="1.8" stroke-linecap="butt"/>
<!-- 11 report -->
<path d="M19,610.4 L23.6,605.8 H41.8 C43.6,605.8 44.4,606.8 44.4,608.4 V631.6 C44.4,633.4 43.6,634.2 41.8,634.2 H21.6 C19.8,634.2 19,633.4 19,631.6 Z"/>
<path d="M30.4,614.2 A6.4,6.4 0 1 0 36.8,620.6 H30.4 Z" stroke-width="1.8"/>
<path d="M33.2,611.8 V618 H39.4 A6.2,6.2 0 0 0 33.2,611.8 Z" stroke-width="1.6"/>
<path d="M26.2,630 H36.8" stroke-width="1.7"/>
<g stroke="none" fill="#fff" font-weight="bold" style="font-family:'Liberation Sans',sans-serif">
<text x="35" y="366.4" font-size="8" text-anchor="middle">Rp</text>
<text x="28" y="563.8" font-size="6.6" text-anchor="middle">TAX</text>
</g>
</svg>
<div id="tabs">
 <div class="line"></div>
 <div class="tab">Dashboard</div>
 <div class="cnt">1<svg class="abs" style="left:29px;top:13px" width="12" height="10" viewBox="0 0 12 10"><path d="M1.5,2.5 L6,7 L10.5,2.5" fill="none" stroke="#555" stroke-width="1.5"/></svg></div>
</div>
<div id="main">
<!-- rounded panel corner -->
<div class="abs" style="left:0;top:-2px;width:1857px;height:740px;background:#f0f0f0;border-top:1.2px solid #ec3568;border-radius:6px 4px 0 0"><div class="abs" style="left:0;top:0;right:0;bottom:0;border-top:1.5px solid #fdfdfd;border-left:1.5px solid #fdfdfd;border-right:1.2px solid #fdfdfd;border-radius:6px 4px 0 0"></div></div>

<!-- scrollbar -->
<div class="abs" style="left:1843px;top:70px;width:8px;height:486px;background:#ededed"></div>
<div class="abs" style="left:1843px;top:556px;width:8px;height:180px;background:#fafafa"></div>

<!-- toolbar -->
<div class="box" style="left:16px;top:7px;width:1816px;height:51px;background:#fafafa">
 <div class="abs" style="left:5px;top:5px;width:188px;height:38px;background:#d6e9fc;border:1px solid #2c6cb8;border-radius:5px">
  <svg class="abs" style="left:53.500px;top:8.500px" width="18" height="18" viewBox="0 0 18 18"><path d="M9,.8V17.200M.8,9H17.200" stroke="#0d4f9e" stroke-width="4"/></svg>
  <div class="t" style="left:83px;top:7px;font:16px 'Liberation Sans',sans-serif;color:#1459a6;line-height:22px">Widget</div>
 </div>
 <div class="abs" style="left:1386px;top:5px;width:387px;height:38px;background:#fff;border:1px solid #c4c4c4;border-radius:5px">
  <div class="t" style="left:9px;top:6px;font:18px 'Liberation Sans',sans-serif;color:#111;line-height:24px">Dashboard Utama</div>
  <svg class="abs" style="left:362px;top:12px" width="14" height="12" viewBox="0 0 14 12"><path d="M2,3.5 L7,8.5 L12,3.5" fill="none" stroke="#111" stroke-width="2"/></svg>
 </div>
 <svg class="abs" style="left:1796px;top:15px" width="6" height="20" viewBox="0 0 6 20"><circle cx="3" cy="3.5" r="1.7" fill="#444"/><circle cx="3" cy="9.5" r="1.7" fill="#444"/><circle cx="3" cy="15.5" r="1.7" fill="#444"/></svg>
</div>

<!-- reusable symbols -->
<svg width="0" height="0" style="position:absolute"><defs>
<symbol id="rf" viewBox="0 0 18 18"><path d="M14.600,5 A7,7 0 1 0 16,10.200" fill="none" stroke="#111" stroke-width="1.950" stroke-linecap="butt"/><path d="M16.800,.8 V7 H10.600 Z" fill="#111"/></symbol>
<symbol id="dt" viewBox="0 0 4 16"><circle cx="2" cy="2" r="1.6" fill="#666"/><circle cx="2" cy="8" r="1.6" fill="#666"/><circle cx="2" cy="14" r="1.6" fill="#666"/></symbol>
</defs></svg>

<!-- W1 Aktifitas -->
<div class="box" style="left:16px;top:70px;width:596px;height:292px;overflow:hidden">
 <div class="wt" style="letter-spacing:.29px">Aktifitas Terakhir Anda (Michelle Georgina)</div>
 <svg class="wr"><use href="#rf"/></svg><svg class="wd"><use href="#dt"/></svg>
 <div class="wl"></div>
 <div class="t" style="left:0;width:96px;top:43px;text-align:center;font:13.5px 'Liberation Sans',sans-serif;color:#555;line-height:16px">Kemarin</div>
 <div class="t" style="left:-1.500px;width:96px;top:56px;text-align:center;font:39px 'Liberation Sans',sans-serif;color:#555;line-height:44px;letter-spacing:-1px">22</div>
 <div class="t" style="left:-1px;width:96px;top:98px;text-align:center;font:19.200px 'Liberation Sans',sans-serif;color:#666;line-height:24px">Des</div>
 <svg class="abs" style="left:98px;top:44px" width="16" height="80" viewBox="0 0 16 80"><path d="M8.5,19V58" stroke="#d0d0d0" stroke-width="1"/><circle cx="8.5" cy="8" r="4.6" fill="#d4e6f8" stroke="#2f6fb8" stroke-width="1.2"/><circle cx="8.5" cy="70" r="4.6" fill="#d4e6f8" stroke="#2f6fb8" stroke-width="1.2"/></svg>
 <div class="t sb" style="left:141px;top:42px;font:13.600px 'Liberation Sans',sans-serif;color:#2a2a2a;line-height:18px">17:06</div>
 <div class="t" style="left:141px;top:73px;font:14.6px 'Liberation Sans',sans-serif;color:#555;line-height:18px;letter-spacing:.05px">Ubah Desain Cetakan Faktur Penjualan - Default</div>
 <div class="t sb" style="left:141px;top:104.600px;font:13.600px 'Liberation Sans',sans-serif;color:#2a2a2a;line-height:18px">16:05</div>
 <!-- inner scrollbar -->
 <div class="abs" style="left:580px;top:30px;width:12px;height:262px;background:#fafafa"></div>
 <svg class="abs" style="left:581px;top:32.500px" width="11" height="9" viewBox="0 0 11 9"><path d="M.8,7.500 L5.500,1.200 L10.200,7.500 Z" fill="#808080"/></svg>
 <div class="abs" style="left:582px;top:47px;width:9px;height:31px;background:#8c8c8c;border-radius:4.500px"></div>
</div>

<!-- W2 Kegiatan -->
<div class="box" style="left:623px;top:70px;width:596px;height:292px">
 <div class="wt" style="letter-spacing:.28px">Kegiatan Mendatang</div>
 <svg class="wr"><use href="#rf"/></svg><svg class="wd"><use href="#dt"/></svg>
 <div class="wl"></div>
 <div class="t" style="left:1px;width:96px;top:43px;text-align:center;font:13.5px 'Liberation Sans',sans-serif;color:#555;line-height:16px">Kamis</div>
 <div class="t" style="left:-.5px;width:96px;top:56px;text-align:center;font:39px 'Liberation Sans',sans-serif;color:#555;line-height:44px;letter-spacing:-1px">25</div>
 <div class="t" style="left:0;width:96px;top:97.500px;text-align:center;font:19.200px 'Liberation Sans',sans-serif;color:#666;line-height:24px">Des</div>
 <svg class="abs" style="left:101px;top:44px" width="16" height="16" viewBox="0 0 16 16"><circle cx="8.5" cy="8" r="4.8" fill="#74e65a" stroke="#3aa82e" stroke-width="1.1"/></svg>
 <div class="t sb" style="left:145px;top:42px;font:14px 'Liberation Sans',sans-serif;color:#2a2a2a;line-height:18px">110102.2025.12.00001</div>
 <div class="t" style="left:145px;top:73px;font:14.6px 'Liberation Sans',sans-serif;color:#555;line-height:18px;letter-spacing:.05px">Jatuh Tempo Giro Masuk, Pelanggan A</div>
 <div class="abs" style="left:11px;right:14px;top:132px;height:1px;background:#e6e6e6"></div>
</div>

<!-- W3 Tren Penjualan -->
<div class="box" style="left:1231px;top:70px;width:596px;height:292px">
 <div class="wt" style="letter-spacing:-.11px">Tren Penjualan (Semua Cabang)</div>
 <svg class="wr"><use href="#rf"/></svg><svg class="wd"><use href="#dt"/></svg>
 <div class="wl"></div>
 <svg class="abs" style="left:-.7px;top:0" width="594" height="290" viewBox="0 0 594 290">
  <g stroke="#e4e6ea" stroke-width="1"><path d="M60,59.5H580M60,122.5H580M60,183.5H580"/></g>
  <path d="M60,244.5H580" stroke="#c9d2ea" stroke-width="1.2"/>
  <g class="dj" font-size="11.7" fill="#555" text-anchor="end"><text x="43.5" y="65">15 jt</text><text x="43.5" y="127">10 jt</text><text x="43.5" y="188">5 jt</text><text x="43" y="249">0</text></g>
  <g class="dj" font-size="11.7" fill="#555" text-anchor="middle"><text x="97" y="266">Rab</text><text x="171" y="266">Kam</text><text x="245" y="266">Jum</text><text x="320" y="266">Sab</text><text x="394" y="266">Min</text><text x="468" y="266">Kemarin</text><text x="543" y="266">Hari ini</text></g>
  <text class="dj" x="580" y="51" font-size="10.6" fill="#444" text-anchor="end">(Seminggu terakhir)</text>
  <path d="M97,244.5 L394,244.5 C420,244.5 440,78 468,78 C492,80 534,205 543,244.5" fill="none" stroke="#6cace4" stroke-width="2.2"/>
  <g fill="#6cace4"><circle cx="97" cy="244.5" r="4"/><circle cx="171" cy="244.5" r="4"/><circle cx="245" cy="244.5" r="4"/><circle cx="320" cy="244.5" r="4"/><circle cx="394" cy="244.5" r="4"/><circle cx="468" cy="78" r="4"/><circle cx="543" cy="244.5" r="4"/></g>
 </svg>
</div>

<!-- W4 hidden widget left row2 -->
<div class="box" style="left:16px;top:373px;width:596px;height:293px"></div>

<!-- W5 Arus Kas -->
<div class="box r2" style="left:623px;top:373px;width:596px;height:293px">
 <div class="wt" style="letter-spacing:-.29px">Arus Kas</div>
 <svg class="wr"><use href="#rf"/></svg><svg class="wd"><use href="#dt"/></svg>
 <div class="wl"></div>
 <svg class="abs" style="left:-.9px;top:.4px" width="594" height="291" viewBox="0 0 594 291">
  <g stroke="#e4e6ea" stroke-width="1"><path d="M79,44H580M79,111.300H580M79,178.700H580"/></g>
  <path d="M79,246H580" stroke="#c9d2ea" stroke-width="1.200"/>
  <g class="dj" font-size="11.700" fill="#555" text-anchor="end"><text x="63" y="49">0</text><text x="63" y="116">−100 rb</text><text x="63" y="183">−200 rb</text><text x="63" y="250">−300 rb</text></g>
  <g class="dj" font-size="11.700" fill="#555" text-anchor="middle"><text x="115.500" y="267">17 Des</text><text x="187.300" y="267">18 Des</text><text x="258.500" y="267">19 Des</text><text x="329.900" y="267">20 Des</text><text x="401.800" y="267">21 Des</text><text x="472.900" y="267">22 Des</text><text x="544.800" y="267">23 Des</text></g>
  <rect x="241.500" y="44" width="33.800" height="167.800" fill="#ff8272"/>
  <path d="M115.500,44 L187.300,44 C211,44 235,211.800 258.500,211.800 C282,211.800 306,44 329.900,44 L544.800,44" fill="none" stroke="#1c9cd6" stroke-width="2.200"/>
  <g fill="#10a0dc"><circle cx="115.500" cy="44" r="4.400"/><circle cx="187.300" cy="44" r="4.400"/><circle cx="258.500" cy="211.800" r="4.400"/><circle cx="329.900" cy="44" r="4.400"/><circle cx="401.800" cy="44" r="4.400"/><circle cx="472.900" cy="44" r="4.400"/><circle cx="544.800" cy="44" r="4.400"/></g>
 </svg>
</div>

<!-- W6 Beban -->
<div class="box r2" style="left:1231px;top:373px;width:596px;height:293px">
 <div class="wt" style="letter-spacing:-.15px">Beban Perusahaan (Semua Cabang)</div>
 <svg class="wr"><use href="#rf"/></svg><svg class="wd"><use href="#dt"/></svg>
 <div class="wl"></div>
 <svg class="abs" style="left:-.6px;top:-1.3px" width="594" height="291" viewBox="0 0 594 291">
  <circle cx="80.600" cy="113" r="45" fill="none" stroke="#33dcb2" stroke-width="11.5"/>
  <g fill="none" stroke="#f2232b" stroke-width="1.500"><circle cx="66.700" cy="115" r="6.700"/><path d="M66.700,119.200V111.600M63.500,114.600L66.700,111.400L69.900,114.600" stroke-width="1.900"/></g>
  <text x="90" y="122" font-size="21.500" fill="#f2232b" stroke="#f2232b" stroke-width=".55" text-anchor="middle" letter-spacing="-.3">8x</text>
  <g font-size="11.300" fill="#333" text-anchor="middle" letter-spacing=".05"><text x="80.600" y="181">Dibanding 1 Nov - 30 Nov</text><text x="80.600" y="196">2025</text></g>
  <g fill="none" stroke="#18a0ec" stroke-width="2"><path d="M458,45 L454.8,48.5 L458,52"/><path d="M572,45 L575.2,48.5 L572,52"/></g>
  <text x="515.500" y="53.600" font-size="10.800" fill="#333" text-anchor="middle" letter-spacing=".05">1 Des - 23 Des 2025</text>
  <text x="159" y="91" font-size="21.600" fill="#151515" stroke="#151515" stroke-width=".8" letter-spacing="-.55">Beban</text>
  <text x="580.600" y="91" font-size="22.200" fill="#151515" stroke="#151515" stroke-width=".75" text-anchor="end" letter-spacing="-.55">900.000</text>
  <text x="498.500" y="91" font-size="15.500" fill="#222" stroke="#222" stroke-width=".25" text-anchor="end" letter-spacing="-.3">Rp</text>
  <path d="M159,102.5H580" stroke="#d8d8d8"/>
  <circle cx="164" cy="119" r="4.6" fill="#3cd8b0" stroke="#6a8a84" stroke-width="1"/>
  <text x="176" y="124" font-size="14.100" fill="#2a2a2a">Beban Iklan</text>
  <text x="528.300" y="124" font-size="14.900" fill="#222" stroke="#222" stroke-width=".5" text-anchor="end" letter-spacing="-.55">1.000.000</text>
  <text x="462.500" y="125" font-size="10" fill="#999" text-anchor="end">Rp</text>
  <rect x="533.5" y="110.500" width="47" height="15.5" rx="7.7" fill="#ffd3cd" stroke="#fa8c84"/>
  <text x="557" y="122" font-size="10.5" fill="#e8232b" text-anchor="middle">90%</text>
  <circle cx="164" cy="147" r="4.6" fill="#fcc23c" stroke="#9a8658" stroke-width="1"/>
  <text x="176" y="152" font-size="14.300" fill="#2a2a2a">Beban Angkut Pembelian</text>
  <text x="528.300" y="152" font-size="14.900" fill="#222" stroke="#222" stroke-width=".5" text-anchor="end" letter-spacing="-.55">-100.000</text>
  <text x="468.500" y="153" font-size="10" fill="#999" text-anchor="end">Rp</text>
  <rect x="533.5" y="138.5" width="47" height="15.5" rx="7.7" fill="#ffd3cd" stroke="#fa8c84"/>
  <text x="557" y="150" font-size="10.5" fill="#e8232b" text-anchor="middle">100%</text>
 </svg>
</div>

<!-- row 3 -->
<div class="box" style="left:16px;top:677px;width:900px;height:100px">
 <svg class="wr"><use href="#rf"/></svg><svg class="wd"><use href="#dt"/></svg>
 <div class="wl"></div>
 <div class="t" style="right:9px;top:42px;font:11px 'Liberation Sans',sans-serif;color:#222;line-height:14px">Hari ini</div>
</div>
<div class="box" style="left:927px;top:677px;width:900px;height:100px">
 <div class="wt" style="letter-spacing:-.05px">Pembelian (Semua Cabang)</div>
 <svg class="wr"><use href="#rf"/></svg><svg class="wd"><use href="#dt"/></svg>
 <div class="wl"></div>
 <div class="t" style="right:13px;top:42px;font:11px 'Liberation Sans',sans-serif;color:#222;line-height:14px">Hari ini</div>
 <div class="t" style="left:323px;width:100px;top:42px;text-align:center;font:11px 'Liberation Sans',sans-serif;color:#222;line-height:14px">1 Des - 23 Des 2025</div>
 <svg class="abs" style="left:308px;top:43px" width="130" height="12" viewBox="0 0 130 12" fill="none" stroke="#18a0ec" stroke-width="2"><path d="M9,2 L5.800,5.500 L9,9"/><path d="M123,2 L126.2,5.500 L123,9"/></svg>
</div>
<!-- bottom strip -->
<div class="abs" style="left:-62px;top:731px;width:1919px;height:4px;background:#f0f0f0"></div>
</div>
<div id="pop">
<h2>Pembelian</h2>
<div class="pl"></div>
<svg width="0" height="0" style="position:absolute"><defs>
<g id="pbox"><rect x="69.8" y="51.4" width="18.8" height="19.1" rx="4.2"/><path d="M76,52 V57 C76,58.600 77,59.400 78.400,59.400 H79.400 C80.800,59.400 81.800,58.600 81.800,57 V52 M75,65.100 H80"/></g>
<g id="pers"><circle cx="66.6" cy="36.9" r="10.2"/><path d="M61.600,47.300 C52.500,50 46.800,58.500 46.100,65.500 C45.800,68.500 47.500,69.800 51,70.200 C56,70.800 61,70.700 66,70.600"/></g>
</defs></svg>

<!-- row 1 -->
<div class="tile g" style="left:12px;top:97px"><svg viewBox="0 0 135 134.500" style="left:-1px;top:-1px;width:135px;height:134.500px">
<path d="M82.900,40 V29.700 Q82.900,26.600 79.800,26.600 H51 Q47.900,26.600 47.900,29.700 L47.400,62 Q46.800,65.600 45.600,67.800 Q44.600,70.900 47.800,70.900 H67.400"/>
<path d="M54.200,36.500 H76.500 M54.200,43.700 H71 M54.200,50.900 H67.800 M54.200,57.800 H67.800"/>
<path d="M72.300,53.500 H90.400 V68.400 Q90.400,71.500 87.300,71.500 H75.400 Q72.300,71.500 72.300,68.400 Z M77.900,59 V51 a3.750,3.750 0 0 1 7.500,0 V59"/>
</svg><div class="lb">Pesanan<br>Pembelian</div></div>

<div class="tile g" style="left:158.500px;top:97px"><svg viewBox="0 0 135 134.500" style="left:-1px;top:-1px;width:135px;height:134.500px">
<rect x="54.600" y="26.300" width="25.500" height="21.700" rx="2.800"/>
<path d="M60.600,26.500 V47.800 M67,27 V32.900 H73.300 V27 M65.800,42.200 H69" />
<rect x="44.900" y="51.400" width="8" height="19.900" rx="2.400"/>
<path d="M53.800,55.800 C56.500,53.600 60.500,52.600 63.600,54.400 C64.600,55.100 65.200,55.600 66.600,55.600 H70.300 C73.200,55.600 74.800,58.200 74.200,61.300 H63.300 M74.200,61.300 C75.200,61.300 75.900,60.800 76.500,60 L84.600,50.200 C86,48.300 88.200,48 89.700,49.200 C91,50.300 90.800,51.800 89.900,53 L80.200,65.400 C78,68.100 75.600,69.200 72.500,69.200 H58.500 C56.500,69.200 55,68.700 53.800,67.500"/>
</svg><div class="lb">Penerimaan<br>Barang</div></div>

<div class="tile g" style="left:305px;top:97px"><svg viewBox="0 0 135 134.500" style="left:-1px;top:-1px;width:135px;height:134.500px" stroke-width="2.400">
<rect x="45.500" y="42.500" width="44.900" height="22.900" rx="2.500" stroke-width="2.600"/>
<path d="M46.700,69.600 H89.200" stroke-width="2.600"/>
<circle cx="67.900" cy="53.900" r="6.900"/>
<path d="M59.700,46.800 H51.700 L49.900,48.800 V58.600 L51.700,60.700 H59.700 M75.900,46.800 H83.900 L85.900,48.800 V58.600 L83.900,60.700 H75.900"/>
<path d="M47,41.400 L73.200,27.200 Q74.800,26.400 75.800,27.800 L79.200,32.300 M55.500,39.400 L80.500,32.200 Q82.200,31.800 82.900,33.300 L84.300,36 M66,40.400 L85.800,36.700 Q87.400,36.500 87.700,38 L88.300,41.200" stroke-width="2.200"/>
<text x="67.900" y="56.200" font-size="6.400" font-weight="bold" text-anchor="middle" fill="#5a8c00" stroke="none">DP</text>
</svg><div class="lb">Uang Muka<br>Pembelian</div></div>

<div class="tile g" style="left:451px;top:97px"><svg viewBox="0 0 135 134.500" style="left:-1px;top:-1px;width:135px;height:134.500px">
<path d="M56.600,70.500 H48.400 Q45.700,70.500 45.700,67.800 V29.400 Q45.700,26.700 48.400,26.700 H70.600 Q71.600,26.700 72.400,27.500 L81.600,36.200 Q82.500,37 82.500,38.400 V42.800" stroke-width="2.400"/>
<path d="M71,27.200 V34.600 Q71,36.500 72.900,36.500 H81.800"/>
<path d="M51.600,33.400 H61.600 M51.600,39.300 H67 M51.600,48.400 H61.600 M51.600,55 H61.600 M51.600,61.400 H56.500" stroke-width="2.400"/>
<circle cx="73.600" cy="50.500" r="6.600" stroke-width="2.300"/>
<path d="M73.600,70.500 H63.500 Q60.200,70.500 60,67.500 C60,63 64.500,59 69.300,58.200 H76.800" stroke-width="2.300"/>
<rect x="77.500" y="58.700" width="12.700" height="12.500" rx="2.800" stroke-width="2.200"/>
<path d="M81.400,59.500 V63 Q81.400,64.800 83,64.800 H84.200 Q85.800,64.800 85.800,63 V59.500 M80.600,67.600 H83.600" stroke-width="1.900"/>
</svg><div class="lb">Faktur<br>Pembelian</div></div>

<!-- row 2 -->
<div class="tile g" style="left:12px;top:243px"><svg viewBox="0 0 135 134.500" style="left:-1px;top:-1px;width:135px;height:134.500px" stroke-width="2.300">
<rect x="46.300" y="27.100" width="43.500" height="23.400" rx="1.200" stroke-width="2.500"/>
<path d="M54.500,27.400 A8.200,8.200 0 0 1 46.600,35.300 M81.600,27.400 A8.200,8.200 0 0 0 89.500,35.300 M46.600,42.300 A8.200,8.200 0 0 1 54.500,50.200 M89.500,42.300 A8.200,8.200 0 0 0 81.600,50.200"/>
<path d="M64.300,44.200 A6.300,6.300 0 1 1 70.900,44.200"/>
<path d="M65.600,52.600 V43.700 A2.100,2.100 0 0 1 69.800,43.700 V52"/>
<path d="M57.500,51.600 C57.600,54.600 60,55.800 62.400,55.600 C64.400,55.400 65.600,54 65.600,52.400 M69.800,51.800 C70,54.400 71.400,55.400 72.800,55.200 C74.400,55 75.400,53.600 75.900,51.600 M80,51.400 V55.500 C80,58.800 78.400,61.400 76.600,64.400 M64,55.800 C62.200,58.400 61.400,61.200 62.700,64.400"/>
<rect x="59.700" y="65" width="21.300" height="6.400" rx="1"/>
</svg><div class="lb">Pembayaran<br>Pembelian</div></div>

<div class="tile g" style="left:158.500px;top:243px"><svg viewBox="0 0 135 134.500" style="left:-1px;top:-1px;width:135px;height:134.500px" stroke-width="2.500">
<path d="M45.400,36.200 V31 Q45.400,26.800 49.600,26.800 H84.800 Q89,26.800 89,31 V36.200 Z"/>
<path d="M47.300,36.400 V64.500 Q47.300,70.400 53.200,70.400 H66.600 M87.100,36.400 V47.500 M62.800,43.500 H71.600"/>
<path d="M76.600,70 C72.600,69.800 69.900,67 69.900,63.800 C69.900,60.300 72.600,57.700 76.200,57.700 H88.600 M84.500,52.300 L89.600,57.700 L84.500,63.200"/>
</svg><div class="lb">Retur Pembelian</div></div>

<div class="tile g" style="left:305px;top:243px"><svg viewBox="0 0 135 134.500" style="left:-1px;top:-1px;width:135px;height:134.500px" stroke-width="2.400">
<use href="#pers"/><use href="#pbox"/>
<path d="M79.200,43 L83.400,46.700 L90.200,38.700" stroke-width="2.200"/>
</svg><div class="lb">Klaim Pemasok</div></div>

<div class="tile o" style="left:451px;top:243px"><svg viewBox="0 0 135 134.500" style="left:-1px;top:-1px;width:135px;height:134.500px" stroke-width="2.500">
<path d="M62.400,70.600 H49 Q45.700,70.600 45.700,67.300 V30.600 Q45.700,27.300 49,27.300 H75.400 Q78.700,27.300 78.700,30.600 V37.700"/>
<path d="M50.400,45.400 H54.900 M59.500,45.400 H68.200 M50.400,51.600 H54.900 M59.500,51.600 H68.200 M50.400,57.900 H54.900 M59.500,57.900 H68.200 M50.400,64.100 H54.900 M59.500,64.100 H63.200" stroke-width="2.700"/>
<circle cx="78.500" cy="49.700" r="5.800"/>
<path d="M67.500,67.800 C68.600,62.600 72.900,59.300 78.300,59.300 C83.800,59.300 88.100,62.600 89.200,67.800 C89.500,69.500 88.700,70.500 87.200,70.500 H69.500 C68,70.500 67.200,69.500 67.500,67.800 Z"/>
<text x="59.800" y="40.700" font-size="12.500" font-weight="bold" text-anchor="middle" fill="#d95a00" stroke="none" letter-spacing="-.2">RP</text>
</svg><div class="lb">Harga Pemasok</div></div>

<!-- row 3 -->
<div class="tile b" style="left:12px;top:389px"><svg viewBox="0 0 135 134.500" style="left:-1px;top:-1px;width:135px;height:134.500px" stroke-width="2.400">
<g id="catp"><circle cx="54.800" cy="31" r="4.300"/><path d="M54.800,37.300 C49.500,37.700 46,41.300 45.500,44.600 C45.300,45.800 45.900,46.300 47,46.300 H54.800"/><rect x="57.300" y="37.600" width="9" height="9" rx="2" fill="#f4f9ff" stroke-width="2.200"/><path d="M60.200,39 V41.400 H63.200 V39 M60.600,43.800 H62.800" stroke-width="1" /></g>
<use href="#catp" transform="translate(0,24.400)"/>
<path d="M69,37.800 L73.600,35.600 C74.200,32.300 77.600,30.700 81.700,30.700 A7,7 0 1 1 81.700,44.800 C77.600,44.800 74.200,43.200 73.600,40 Z" stroke-width="2.200"/>
<path d="M69,63.300 L73.600,61.100 C74.200,57.800 77.600,56.200 81.700,56.200 A7,7 0 1 1 81.700,70.300 C77.600,70.300 74.200,68.700 73.600,65.500 Z" stroke-width="2.200"/>
<g fill="#0b66b0" stroke="none" font-weight="bold" font-size="7" text-anchor="middle"><text x="81.800" y="40.300">A</text><text x="81.800" y="65.800">B</text></g>
</svg><div class="lb">Kategori<br>Pemasok</div></div>

<div class="tile b" style="left:158.500px;top:389px"><svg viewBox="0 0 135 134.500" style="left:-1px;top:-1px;width:135px;height:134.500px" stroke-width="2.400">
<g transform="translate(-.5,0)"><use href="#pers"/><use href="#pbox"/></g>
</svg><div class="lb">Pemasok</div></div>

<div class="tile g" style="left:305px;top:389px"><svg viewBox="0 0 135 134.500" style="left:-1px;top:-1px;width:135px;height:134.500px;stroke:#6cb33f" stroke-width="2.200">
<path d="M50.100,42.200 V67.800 Q50.100,70.500 52.800,70.500 H63 M59,26.800 H74.400 Q75.400,26.800 76.200,27.600 L85.300,36 Q86.200,36.800 86.200,38 V55.600 M74.900,27.200 V34.600 Q74.900,36.500 76.800,36.500 H85.600"/>
<circle cx="53.500" cy="34.600" r="8"/>
<path d="M53.500,30.800 V35.200" stroke-width="2.600"/><circle cx="53.500" cy="38.200" r="1.200" fill="#6cb33f" stroke="none"/>
<path d="M69.800,41.600 H80.800"/>
<path d="M63,61.500 H58 Q55.500,61.500 55.500,59 V48.400 Q55.500,45.900 58,45.900 H80.800 Q83.300,45.900 83.300,48.400 V55.600"/>
<path d="M60.600,46.200 A5,5 0 0 1 55.800,51 M78.300,46.200 A5,5 0 0 0 83,51 M55.800,55.200 A5,5 0 0 1 60.600,60"  stroke-width="1.800"/>
<rect x="63.100" y="56.100" width="27.500" height="14.700" rx="2.200"/>
<rect x="67.600" y="58.600" width="5.600" height="4.700" rx="1.200" fill="#6cb33f" stroke-width="1.400"/>
<path d="M81.800,60 H86.500 M67.400,67.200 H71.500 M74.500,67.200 H79 M81.800,67.200 H86.500" stroke-width="2.100"/>
<text x="69.400" y="54.600" font-size="6.200" font-weight="bold" text-anchor="middle" fill="#6cb33f" stroke="none">RP</text>
</svg><div class="lb">Perintah<br>Pembayaran</div></div>

<div class="tile p" style="left:451px;top:389px"><svg viewBox="0 0 135 134.500" style="left:-1px;top:-1px;width:135px;height:134.500px" stroke-width="2.600">
<rect x="46.100" y="37.500" width="42.800" height="22.800" rx="3.200"/>
<path d="M50.300,44.300 L52.900,44 L53.100,41.900 H81.500 L81.900,44 L85,44.400 V53 L81.900,53.400 L81.500,55.500 H53.300 L52.900,53.400 L50.300,53 Z" stroke-width="2.400"/>
<path d="M79.700,32.300 H56.700 L62.700,26.800 M56.800,65.400 H79.700 L73.700,71.200" stroke-width="2.500"/>
<text x="67.900" y="52.600" font-size="9.600" font-weight="bold" text-anchor="middle" fill="#4b0a8c" stroke="none">RP</text>
</svg><div class="lb">Transfer<br>Pemasok</div></div>

<div id="hl"></div>
</div>
</div>
</body>
</html>
